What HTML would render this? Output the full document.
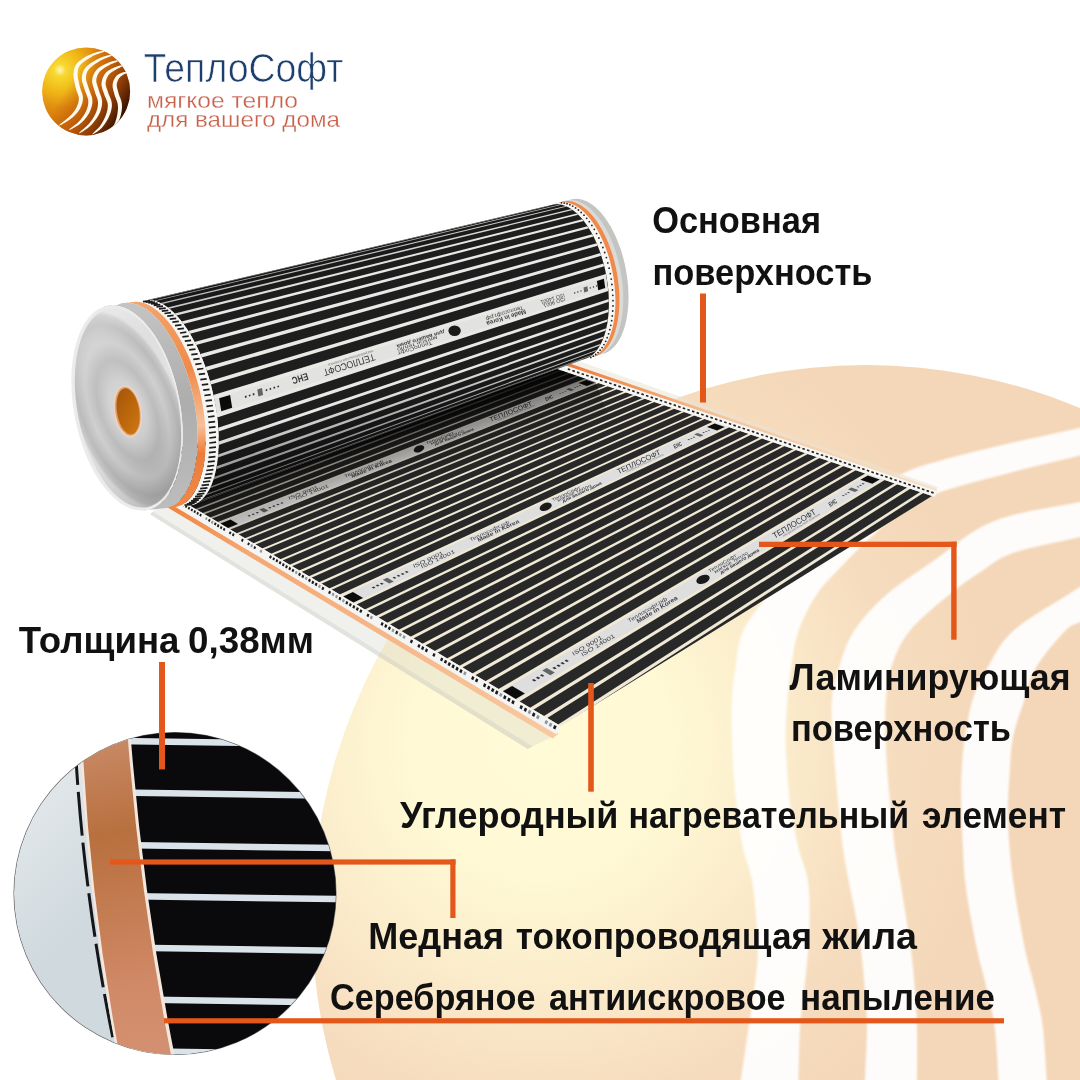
<!DOCTYPE html>
<html><head><meta charset="utf-8"><style>html,body{margin:0;padding:0;background:#fff}svg{display:block;will-change:transform;transform:translateZ(0)}text{font-family:"Liberation Sans",sans-serif}</style></head><body>
<svg width="1080" height="1080" viewBox="0 0 1080 1080">
<rect width="1080" height="1080" fill="#ffffff"/>
<defs>
<radialGradient id="gbg" gradientUnits="userSpaceOnUse" cx="540" cy="745" r="480">
<stop offset="0" stop-color="#fffbd6"/><stop offset="0.25" stop-color="#fffad5"/><stop offset="0.5" stop-color="#fbeccb"/><stop offset="0.75" stop-color="#f6dcbe"/><stop offset="1" stop-color="#f4d6b8"/>
</radialGradient>
<clipPath id="cbg"><circle cx="866" cy="919" r="554"/></clipPath>
<filter id="b1" x="-5%" y="-5%" width="110%" height="110%"><feGaussianBlur stdDeviation="0.8"/></filter>
</defs>
<circle cx="866" cy="919" r="554" fill="url(#gbg)"/>
<g clip-path="url(#cbg)" filter="url(#b1)" fill="#ffffff" fill-opacity="0.93">
<path d="M1100.0,421.0 C1096.7,422.1 1094.5,424.2 1080.0,427.8 C1065.5,431.4 1036.5,437.1 1013.0,442.6 C989.5,448.1 957.5,455.8 939.0,461.0 C920.5,466.2 914.8,467.7 902.0,474.0 C889.2,480.3 875.3,488.5 862.0,499.0 C848.7,509.5 833.7,525.5 822.0,537.0 C810.3,548.5 800.8,558.5 792.0,568.0 C783.2,577.5 777.2,583.5 769.0,594.0 C760.8,604.5 748.6,618.7 743.0,631.0 C737.4,643.3 737.3,656.5 735.5,668.0 C733.7,679.5 732.6,688.5 732.0,700.0 C731.4,711.5 731.7,724.7 732.0,737.0 C732.3,749.3 732.8,761.7 733.7,774.0 C734.6,786.3 735.9,798.7 737.4,811.0 C738.9,823.3 740.6,836.5 743.0,848.0 C745.4,859.5 749.8,868.5 752.0,880.0 C754.2,891.5 755.0,904.7 756.0,917.0 C757.0,929.3 758.1,941.7 757.8,954.0 C757.5,966.3 755.5,978.7 754.0,991.0 C752.5,1003.3 750.7,1013.2 748.5,1028.0 C746.3,1042.8 742.6,1068.8 741.0,1080.0 C739.4,1091.2 739.3,1092.5 739.0,1095.0 L798.0,1095.0 C798.1,1092.5 798.2,1091.2 798.5,1080.0 C798.8,1068.8 799.1,1042.8 800.0,1028.0 C800.9,1013.2 802.7,1003.3 804.0,991.0 C805.3,978.7 806.9,966.3 807.8,954.0 C808.7,941.7 809.6,929.3 809.6,917.0 C809.6,904.7 809.6,891.5 807.8,880.0 C805.9,868.5 801.3,859.5 798.5,848.0 C795.7,836.5 792.9,823.3 791.0,811.0 C789.1,798.7 788.3,786.3 787.4,774.0 C786.5,761.7 785.5,749.3 785.5,737.0 C785.5,724.7 786.5,711.5 787.4,700.0 C788.3,688.5 789.1,679.5 791.0,668.0 C792.9,656.5 794.2,643.3 798.5,631.0 C802.8,618.7 810.1,604.5 817.0,594.0 C823.9,583.5 831.5,577.0 840.0,568.0 C848.5,559.0 858.0,549.2 868.0,540.0 C878.0,530.8 888.2,520.9 900.0,513.0 C911.8,505.1 920.2,499.4 939.0,492.6 C957.8,485.8 989.5,478.2 1013.0,472.0 C1036.5,465.8 1065.5,459.4 1080.0,455.6 C1094.5,451.8 1096.7,450.1 1100.0,449.0 Z" />
<path d="M1100.0,496.0 C1096.7,497.0 1094.5,498.8 1080.0,502.0 C1065.5,505.2 1030.3,510.3 1013.0,515.0 C995.7,519.7 988.3,523.0 976.0,530.0 C963.7,537.0 953.8,546.3 939.0,557.0 C924.2,567.7 901.6,581.7 887.4,594.0 C873.2,606.3 862.1,618.7 854.0,631.0 C845.9,643.3 842.7,656.5 839.0,668.0 C835.3,679.5 832.9,688.5 831.9,700.0 C830.9,711.5 832.4,724.7 833.0,737.0 C833.6,749.3 834.6,761.7 835.6,774.0 C836.6,786.3 837.8,798.7 839.0,811.0 C840.2,823.3 841.4,836.5 843.0,848.0 C844.6,859.5 846.3,868.5 848.5,880.0 C850.7,891.5 853.8,904.7 856.0,917.0 C858.2,929.3 860.0,941.7 861.5,954.0 C863.0,966.3 864.1,978.7 865.0,991.0 C865.9,1003.3 867.0,1013.2 867.0,1028.0 C867.0,1042.8 865.5,1068.8 865.0,1080.0 C864.5,1091.2 864.2,1092.5 864.0,1095.0 L917.0,1095.0 C917.0,1092.5 917.0,1091.2 917.0,1080.0 C917.0,1068.8 917.3,1042.8 917.0,1028.0 C916.7,1013.2 915.9,1003.3 915.0,991.0 C914.1,978.7 913.0,966.3 911.5,954.0 C910.0,941.7 907.9,929.3 906.0,917.0 C904.1,904.7 901.9,891.5 900.0,880.0 C898.1,868.5 896.3,859.5 894.8,848.0 C893.3,836.5 892.2,823.3 891.0,811.0 C889.8,798.7 888.3,786.3 887.4,774.0 C886.5,761.7 885.9,748.5 885.6,737.0 C885.3,725.5 884.7,716.5 885.6,705.0 C886.5,693.5 887.0,680.3 891.0,668.0 C895.0,655.7 899.8,643.3 909.6,631.0 C919.4,618.7 937.9,604.0 950.0,594.0 C962.1,584.0 971.5,577.8 982.0,571.0 C992.5,564.2 996.7,558.7 1013.0,553.0 C1029.3,547.3 1065.5,540.7 1080.0,537.0 C1094.5,533.3 1096.7,532.0 1100.0,531.0 Z" />
<path d="M1100.0,575.0 C1096.7,577.0 1085.2,583.8 1080.0,587.0 C1074.8,590.2 1080.2,586.7 1069.0,594.0 C1057.8,601.3 1026.6,618.7 1013.0,631.0 C999.4,643.3 994.1,656.5 987.4,668.0 C980.7,679.5 976.3,688.5 972.6,700.0 C968.9,711.5 966.9,724.7 965.0,737.0 C963.1,749.3 962.1,761.7 961.5,774.0 C960.9,786.3 961.2,798.7 961.5,811.0 C961.8,823.3 962.4,836.5 963.0,848.0 C963.6,859.5 963.7,868.5 965.0,880.0 C966.3,891.5 968.5,904.7 970.7,917.0 C972.9,929.3 975.2,941.7 978.0,954.0 C980.8,966.3 984.6,978.7 987.4,991.0 C990.2,1003.3 992.9,1013.2 994.8,1028.0 C996.6,1042.8 997.8,1068.8 998.5,1080.0 C999.2,1091.2 998.9,1092.5 999.0,1095.0 L1047.0,1095.0 C1047.0,1092.5 1047.4,1091.2 1046.7,1080.0 C1046.0,1068.8 1044.8,1042.8 1043.0,1028.0 C1041.2,1013.2 1038.4,1003.3 1035.6,991.0 C1032.8,978.7 1028.8,966.3 1026.0,954.0 C1023.2,941.7 1021.2,929.3 1019.0,917.0 C1016.8,904.7 1014.6,891.5 1013.0,880.0 C1011.4,868.5 1010.5,859.5 1009.6,848.0 C1008.7,836.5 1007.8,823.3 1007.8,811.0 C1007.8,798.7 1008.7,786.3 1009.6,774.0 C1010.5,761.7 1010.5,749.3 1013.0,737.0 C1015.5,724.7 1020.6,711.5 1024.4,700.0 C1028.2,688.5 1028.8,679.5 1035.6,668.0 C1042.4,656.5 1057.6,638.7 1065.0,631.0 C1072.4,623.3 1074.2,625.5 1080.0,622.0 C1085.8,618.5 1096.7,612.0 1100.0,610.0 Z" />
</g>
<defs><clipPath id="csheet"><polygon points="120.0,463.9 560.7,726.0 932.0,496.0 520.0,356.4" /></clipPath>
<linearGradient id="glam" gradientUnits="userSpaceOnUse" x1="0" y1="0" x2="-8" y2="14"><stop offset="0" stop-color="#c9c9bd" stop-opacity="0.55"/><stop offset="1" stop-color="#d8d8cc" stop-opacity="0.25"/></linearGradient>
</defs>
<polygon points="165.0,500.3 557.7,734.0 527.7,749.0 150.0,514.3" fill="#d6d6cc" fill-opacity="0.36"/>
<polygon points="532.7,746.5 527.7,749.0 150.0,514.3 153.0,511.8" fill="#c4c4bc" fill-opacity="0.3"/>
<defs><linearGradient id="gfor" gradientUnits="userSpaceOnUse" x1="170" y1="510" x2="560" y2="735"><stop offset="0" stop-color="#f0853f"/><stop offset="0.2" stop-color="#f4a873"/><stop offset="1" stop-color="#f8c9a2"/></linearGradient></defs>
<polygon points="119.0,471.4 558.7,733.5 552.7,738.5 115.0,475.9" fill="url(#gfor)"/>
<polygon points="120.0,463.9 560.7,726.0 556.7,734.5 117.5,472.4" fill="#f4f4f2"/>
<polygon points="520.0,340.4 938.0,487.0 936.0,491.0 520.0,349.4" fill="#e9e4d6" fill-opacity="0.55"/>
<defs><linearGradient id="gfar" gradientUnits="userSpaceOnUse" x1="565" y1="365" x2="935" y2="490"><stop offset="0" stop-color="#ee7c3c"/><stop offset="0.2" stop-color="#f19a62"/><stop offset="0.45" stop-color="#f6c7a0"/><stop offset="1" stop-color="#f7e2c6"/></linearGradient></defs>
<polygon points="520.0,346.4 937.0,489.0 936.5,491.5 520.0,350.4" fill="url(#gfar)"/>
<polygon points="520.0,349.9 936.5,491.0 935.0,497.0 520.0,356.4" fill="#f6f6f4"/>
<polygon points="120.0,463.9 560.7,726.0 932.0,496.0 520.0,356.4" fill="#eee8d5" fill-opacity="0.94"/>
<g clip-path="url(#csheet)">
<polygon points="85.8,443.6 88.4,445.1 411.8,319.8 406.4,317.9" fill="#dedede"/>
<polygon points="88.9,445.5 90.9,446.6 416.9,321.5 413.0,320.2" fill="#292828"/>
<polygon points="91.6,447.0 93.7,448.3 422.2,323.3 418.2,321.9" fill="#292828"/>
<polygon points="94.4,448.7 96.7,450.1 427.6,325.1 423.5,323.7" fill="#292828"/>
<polygon points="97.5,450.5 99.9,452.0 433.2,327.0 428.9,325.6" fill="#292828"/>
<polygon points="100.7,452.5 103.3,454.0 438.9,328.9 434.5,327.5" fill="#292828"/>
<polygon points="104.2,454.5 107.0,456.2 444.7,330.9 440.3,329.4" fill="#292828"/>
<polygon points="107.8,456.7 110.8,458.4 450.7,332.9 446.1,331.4" fill="#292828"/>
<polygon points="111.7,459.0 114.8,460.8 456.8,335.0 452.1,333.4" fill="#292828"/>
<polygon points="115.8,461.4 119.1,463.4 463.1,337.1 458.3,335.5" fill="#292828"/>
<polygon points="120.1,464.0 123.5,466.0 469.5,339.3 464.6,337.6" fill="#292828"/>
<polygon points="124.6,466.7 128.2,468.8 476.0,341.5 471.0,339.8" fill="#292828"/>
<polygon points="129.3,469.5 133.0,471.7 482.7,343.8 477.6,342.0" fill="#292828"/>
<polygon points="134.2,472.4 139.9,475.7 491.8,346.9 484.3,344.3" fill="#dedede"/>
<polygon points="141.1,476.5 145.2,478.9 498.8,349.2 493.5,347.4" fill="#292828"/>
<polygon points="146.5,479.7 150.8,482.2 506.0,351.7 500.5,349.8" fill="#292828"/>
<polygon points="152.1,483.0 156.5,485.7 513.2,354.1 507.7,352.2" fill="#292828"/>
<polygon points="157.9,486.5 162.5,489.2 520.7,356.6 515.0,354.7" fill="#292828"/>
<polygon points="164.0,490.1 168.7,492.9 528.2,359.2 522.5,357.3" fill="#292828"/>
<polygon points="170.2,493.8 175.1,496.7 536.0,361.8 530.1,359.8" fill="#292828"/>
<polygon points="176.7,497.6 181.7,500.6 543.8,364.5 537.8,362.5" fill="#292828"/>
<polygon points="183.3,501.6 188.5,504.7 551.8,367.2 545.7,365.1" fill="#292828"/>
<polygon points="190.2,505.7 195.5,508.9 559.9,369.9 553.7,367.8" fill="#292828"/>
<polygon points="197.2,509.9 202.8,513.1 568.2,372.7 561.9,370.6" fill="#292828"/>
<polygon points="204.5,514.2 210.2,517.6 576.6,375.6 570.2,373.4" fill="#292828"/>
<polygon points="212.0,518.6 217.8,522.1 585.2,378.5 578.6,376.3" fill="#292828"/>
<polygon points="219.7,523.2 228.4,528.4 596.8,382.4 587.2,379.2" fill="#dedede"/>
<polygon points="230.3,529.5 236.5,533.2 605.7,385.4 598.9,383.1" fill="#292828"/>
<polygon points="238.5,534.4 244.8,538.2 614.7,388.5 607.8,386.2" fill="#292828"/>
<polygon points="246.8,539.4 253.4,543.2 623.9,391.6 616.9,389.2" fill="#292828"/>
<polygon points="255.4,544.5 262.1,548.5 633.2,394.8 626.1,392.4" fill="#292828"/>
<polygon points="264.2,549.7 271.1,553.8 642.6,398.0 635.4,395.5" fill="#292828"/>
<polygon points="273.3,555.1 280.3,559.2 652.2,401.2 644.9,398.7" fill="#292828"/>
<polygon points="282.5,560.6 289.6,564.8 661.9,404.5 654.5,402.0" fill="#292828"/>
<polygon points="291.9,566.2 299.2,570.5 671.8,407.8 664.3,405.3" fill="#292828"/>
<polygon points="301.5,571.9 309.0,576.3 681.8,411.2 674.2,408.7" fill="#292828"/>
<polygon points="311.4,577.7 319.0,582.3 692.0,414.7 684.2,412.1" fill="#292828"/>
<polygon points="321.4,583.7 329.2,588.4 702.3,418.2 694.4,415.5" fill="#292828"/>
<polygon points="331.7,589.8 339.7,594.6 712.7,421.7 704.7,419.0" fill="#292828"/>
<polygon points="342.2,596.0 353.9,603.0 726.8,426.5 715.2,422.5" fill="#dedede"/>
<polygon points="356.5,604.5 364.8,609.5 737.6,430.1 729.4,427.3" fill="#292828"/>
<polygon points="367.4,611.1 375.9,616.1 748.5,433.8 740.2,431.0" fill="#292828"/>
<polygon points="378.6,617.7 387.2,622.8 759.5,437.6 751.1,434.7" fill="#292828"/>
<polygon points="389.9,624.5 398.7,629.7 770.7,441.4 762.2,438.5" fill="#292828"/>
<polygon points="401.5,631.3 410.5,636.7 782.0,445.2 773.4,442.3" fill="#292828"/>
<polygon points="413.3,638.4 422.4,643.8 793.5,449.1 784.7,446.1" fill="#292828"/>
<polygon points="425.3,645.5 434.6,651.0 805.1,453.0 796.2,450.0" fill="#292828"/>
<polygon points="437.5,652.7 446.9,658.4 816.8,457.0 807.9,453.9" fill="#292828"/>
<polygon points="449.9,660.1 459.5,665.8 828.7,461.0 819.6,457.9" fill="#292828"/>
<polygon points="462.5,667.6 472.3,673.4 840.7,465.1 831.6,462.0" fill="#292828"/>
<polygon points="475.4,675.3 485.3,681.2 852.9,469.2 843.6,466.1" fill="#292828"/>
<polygon points="488.4,683.0 498.5,689.0 865.2,473.4 855.8,470.2" fill="#292828"/>
<polygon points="501.6,690.9 516.4,699.7 881.8,479.0 868.2,474.4" fill="#dedede"/>
<polygon points="519.6,701.6 530.1,707.8 894.5,483.3 884.8,480.0" fill="#292828"/>
<polygon points="533.4,709.7 544.0,716.0 907.2,487.6 897.5,484.3" fill="#292828"/>
<polygon points="547.3,718.0 558.1,724.4 920.2,492.0 910.3,488.7" fill="#292828"/>
<polygon points="561.4,726.4 572.4,732.9 933.2,496.4 923.3,493.0" fill="#292828"/>
<polygon points="575.8,735.0 586.9,741.6 946.4,500.9 936.4,497.5" fill="#292828"/>
<polygon points="590.4,743.6 601.6,750.3 959.8,505.4 949.6,502.0" fill="#292828"/>
<polygon points="605.1,752.4 616.5,759.2 973.2,510.0 963.0,506.5" fill="#292828"/>
<polygon points="620.1,761.3 631.7,768.2 986.9,514.6 976.5,511.1" fill="#292828"/>
<polygon points="635.3,770.4 647.0,777.3 1000.6,519.2 990.1,515.7" fill="#292828"/>
<polygon points="650.7,779.5 662.6,786.6 1014.5,524.0 1003.9,520.4" fill="#292828"/>
<polygon points="666.3,788.8 678.3,795.9 1028.6,528.7 1017.8,525.1" fill="#292828"/>
<polygon points="682.1,798.2 694.3,805.4 1042.7,533.5 1031.9,529.9" fill="#292828"/>
</g>
<path d="M166.1,493.2 l1.6,0.9 l-0.9,2.1 l-1.6,-0.9z M168.9,494.9 l1.6,0.9 l-0.9,2.1 l-1.6,-0.9z M180.1,501.6 l1.6,0.9 l-0.9,2.2 l-1.6,-0.9z M182.9,503.3 l1.6,0.9 l-0.9,2.2 l-1.6,-0.9z M185.8,505.0 l1.6,0.9 l-0.9,2.2 l-1.6,-0.9z M188.6,506.7 l1.6,0.9 l-0.9,2.2 l-1.6,-0.9z M191.5,508.4 l1.6,0.9 l-0.9,2.2 l-1.6,-0.9z M194.4,510.1 l1.6,0.9 l-0.9,2.2 l-1.6,-0.9z M197.3,511.8 l1.6,0.9 l-0.9,2.2 l-1.6,-0.9z M200.2,513.6 l1.6,0.9 l-0.9,2.2 l-1.6,-0.9z M209.0,518.8 l1.6,1.0 l-1.0,2.3 l-1.6,-1.0z M214.9,522.3 l1.7,1.0 l-1.0,2.3 l-1.7,-1.0z M217.8,524.1 l1.7,1.0 l-1.0,2.3 l-1.7,-1.0z M220.8,525.9 l1.7,1.0 l-1.0,2.3 l-1.7,-1.0z M223.8,527.7 l1.7,1.0 l-1.0,2.3 l-1.7,-1.0z M229.8,531.3 l1.7,1.0 l-1.0,2.3 l-1.7,-1.0z M232.9,533.1 l1.7,1.0 l-1.0,2.3 l-1.7,-1.0z M242.0,538.5 l1.7,1.0 l-1.0,2.4 l-1.7,-1.0z M248.2,542.2 l1.7,1.0 l-1.0,2.4 l-1.7,-1.0z M254.4,545.9 l1.7,1.0 l-1.0,2.4 l-1.7,-1.0z M270.1,555.3 l1.8,1.0 l-1.0,2.4 l-1.8,-1.0z M273.3,557.2 l1.8,1.0 l-1.0,2.4 l-1.8,-1.0z M276.5,559.1 l1.8,1.0 l-1.0,2.5 l-1.8,-1.0z M279.7,561.0 l1.8,1.0 l-1.0,2.5 l-1.8,-1.0z M282.9,562.9 l1.8,1.0 l-1.0,2.5 l-1.8,-1.0z M286.1,564.9 l1.8,1.0 l-1.0,2.5 l-1.8,-1.0z M289.4,566.8 l1.8,1.1 l-1.1,2.5 l-1.8,-1.1z M292.6,568.7 l1.8,1.1 l-1.1,2.5 l-1.8,-1.1z M299.2,572.6 l1.8,1.1 l-1.1,2.5 l-1.8,-1.1z M302.5,574.6 l1.8,1.1 l-1.1,2.5 l-1.8,-1.1z M309.1,578.6 l1.9,1.1 l-1.1,2.5 l-1.9,-1.1z M312.4,580.6 l1.9,1.1 l-1.1,2.6 l-1.9,-1.1z M315.7,582.5 l1.9,1.1 l-1.1,2.6 l-1.9,-1.1z M322.5,586.6 l1.9,1.1 l-1.1,2.6 l-1.9,-1.1z M329.2,590.6 l1.9,1.1 l-1.1,2.6 l-1.9,-1.1z M339.5,596.7 l1.9,1.1 l-1.1,2.6 l-1.9,-1.1z M346.4,600.9 l1.9,1.1 l-1.1,2.7 l-1.9,-1.1z M349.9,602.9 l1.9,1.1 l-1.1,2.7 l-1.9,-1.1z M353.4,605.0 l2.0,1.1 l-1.1,2.7 l-2.0,-1.1z M356.9,607.1 l2.0,1.1 l-1.1,2.7 l-2.0,-1.1z M360.4,609.2 l2.0,1.1 l-1.1,2.7 l-2.0,-1.1z M367.5,613.4 l2.0,1.1 l-1.1,2.7 l-2.0,-1.1z M381.7,621.9 l2.0,1.2 l-1.2,2.8 l-2.0,-1.2z M385.4,624.1 l2.0,1.2 l-1.2,2.8 l-2.0,-1.2z M389.0,626.3 l2.0,1.2 l-1.2,2.8 l-2.0,-1.2z M396.3,630.6 l2.0,1.2 l-1.2,2.8 l-2.0,-1.2z M411.0,639.4 l2.1,1.2 l-1.2,2.8 l-2.1,-1.2z M418.5,643.9 l2.1,1.2 l-1.2,2.9 l-2.1,-1.2z M422.2,646.1 l2.1,1.2 l-1.2,2.9 l-2.1,-1.2z M426.0,648.3 l2.1,1.2 l-1.2,2.9 l-2.1,-1.2z M433.5,652.9 l2.1,1.2 l-1.2,2.9 l-2.1,-1.2z M441.2,657.4 l2.1,1.2 l-1.2,2.9 l-2.1,-1.2z M445.0,659.7 l2.2,1.2 l-1.2,2.9 l-2.2,-1.2z M448.8,662.0 l2.2,1.3 l-1.3,3.0 l-2.2,-1.3z M452.7,664.3 l2.2,1.3 l-1.3,3.0 l-2.2,-1.3z M456.6,666.6 l2.2,1.3 l-1.3,3.0 l-2.2,-1.3z M460.5,668.9 l2.2,1.3 l-1.3,3.0 l-2.2,-1.3z M472.3,676.0 l2.2,1.3 l-1.3,3.0 l-2.2,-1.3z M476.2,678.3 l2.2,1.3 l-1.3,3.0 l-2.2,-1.3z M484.2,683.1 l2.2,1.3 l-1.3,3.1 l-2.2,-1.3z M488.2,685.5 l2.2,1.3 l-1.3,3.1 l-2.2,-1.3z M492.2,687.9 l2.3,1.3 l-1.3,3.1 l-2.3,-1.3z M496.2,690.3 l2.3,1.3 l-1.3,3.1 l-2.3,-1.3z M504.3,695.1 l2.3,1.3 l-1.3,3.1 l-2.3,-1.3z M508.4,697.5 l2.3,1.3 l-1.3,3.1 l-2.3,-1.3z M512.5,700.0 l2.3,1.3 l-1.3,3.1 l-2.3,-1.3z M520.7,704.9 l2.3,1.3 l-1.3,3.2 l-2.3,-1.3z M524.9,707.4 l2.3,1.3 l-1.3,3.2 l-2.3,-1.3z M533.2,712.3 l2.3,1.4 l-1.4,3.2 l-2.3,-1.4z M554.3,724.9 l2.4,1.4 l-1.4,3.3 l-2.4,-1.4z" fill="#1b1b1d"/>
<path d="M149.6,483.4 l1.5,0.9 l-0.9,2.1 l-1.5,-0.9z M152.3,485.0 l1.5,0.9 l-0.9,2.1 l-1.5,-0.9z M155.1,486.6 l1.5,0.9 l-0.9,2.1 l-1.5,-0.9z M160.5,489.9 l1.5,0.9 l-0.9,2.1 l-1.5,-0.9z M174.5,498.2 l1.6,0.9 l-0.9,2.2 l-1.6,-0.9z M206.0,517.1 l1.6,0.9 l-0.9,2.2 l-1.6,-0.9z M211.9,520.6 l1.7,1.0 l-1.0,2.3 l-1.7,-1.0z M251.3,544.1 l1.7,1.0 l-1.0,2.4 l-1.7,-1.0z M260.6,549.6 l1.8,1.0 l-1.0,2.4 l-1.8,-1.0z M295.9,570.7 l1.8,1.1 l-1.1,2.5 l-1.8,-1.1z M305.8,576.6 l1.9,1.1 l-1.1,2.5 l-1.9,-1.1z M319.1,584.5 l1.9,1.1 l-1.1,2.6 l-1.9,-1.1z M332.7,592.6 l1.9,1.1 l-1.1,2.6 l-1.9,-1.1z M336.1,594.7 l1.9,1.1 l-1.1,2.6 l-1.9,-1.1z M343.0,598.8 l1.9,1.1 l-1.1,2.6 l-1.9,-1.1z M371.0,615.5 l2.0,1.2 l-1.2,2.7 l-2.0,-1.2z M392.6,628.4 l2.0,1.2 l-1.2,2.8 l-2.0,-1.2z M399.9,632.8 l2.1,1.2 l-1.2,2.8 l-2.1,-1.2z M403.6,635.0 l2.1,1.2 l-1.2,2.8 l-2.1,-1.2z M464.4,671.3 l2.2,1.3 l-1.3,3.0 l-2.2,-1.3z M500.3,692.7 l2.3,1.3 l-1.3,3.1 l-2.3,-1.3z M529.0,709.8 l2.3,1.3 l-1.3,3.2 l-2.3,-1.3z M537.4,714.8 l2.3,1.4 l-1.4,3.2 l-2.3,-1.4z M545.8,719.9 l2.4,1.4 l-1.4,3.2 l-2.4,-1.4z M550.0,722.4 l2.4,1.4 l-1.4,3.3 l-2.4,-1.4z" fill="#8b96a0"/>
<path d="M568.0,368.2 l2.4,0.8 l-0.4,1.6 l-2.4,-0.8z M572.6,369.8 l2.4,0.8 l-0.4,1.6 l-2.4,-0.8z M577.2,371.3 l2.4,0.8 l-0.4,1.6 l-2.4,-0.8z M581.8,372.9 l2.4,0.8 l-0.4,1.6 l-2.4,-0.8z M586.4,374.4 l2.4,0.8 l-0.4,1.6 l-2.4,-0.8z M591.0,376.0 l2.4,0.8 l-0.4,1.6 l-2.4,-0.8z M595.6,377.6 l2.4,0.8 l-0.4,1.6 l-2.4,-0.8z M600.2,379.1 l2.4,0.8 l-0.4,1.6 l-2.4,-0.8z M604.8,380.7 l2.4,0.8 l-0.4,1.6 l-2.4,-0.8z M609.4,382.2 l2.4,0.8 l-0.4,1.6 l-2.4,-0.8z M614.0,383.8 l2.4,0.8 l-0.4,1.6 l-2.4,-0.8z M618.6,385.3 l2.4,0.8 l-0.4,1.6 l-2.4,-0.8z M623.2,386.9 l2.4,0.8 l-0.4,1.6 l-2.4,-0.8z M627.8,388.5 l2.4,0.8 l-0.4,1.6 l-2.4,-0.8z M632.4,390.0 l2.4,0.8 l-0.4,1.6 l-2.4,-0.8z M637.0,391.6 l2.4,0.8 l-0.4,1.6 l-2.4,-0.8z M641.6,393.1 l2.4,0.8 l-0.4,1.6 l-2.4,-0.8z M646.2,394.7 l2.4,0.8 l-0.4,1.6 l-2.4,-0.8z M650.8,396.3 l2.4,0.8 l-0.4,1.6 l-2.4,-0.8z M655.4,397.8 l2.4,0.8 l-0.4,1.6 l-2.4,-0.8z M660.0,399.4 l2.4,0.8 l-0.4,1.6 l-2.4,-0.8z M664.6,400.9 l2.4,0.8 l-0.4,1.6 l-2.4,-0.8z M669.2,402.5 l2.4,0.8 l-0.4,1.6 l-2.4,-0.8z M673.8,404.0 l2.4,0.8 l-0.4,1.6 l-2.4,-0.8z M678.4,405.6 l2.4,0.8 l-0.4,1.6 l-2.4,-0.8z M683.0,407.2 l2.4,0.8 l-0.4,1.6 l-2.4,-0.8z M687.6,408.7 l2.4,0.8 l-0.4,1.6 l-2.4,-0.8z M692.2,410.3 l2.4,0.8 l-0.4,1.6 l-2.4,-0.8z M696.8,411.8 l2.4,0.8 l-0.4,1.6 l-2.4,-0.8z M701.4,413.4 l2.4,0.8 l-0.4,1.6 l-2.4,-0.8z M706.0,415.0 l2.4,0.8 l-0.4,1.6 l-2.4,-0.8z M710.6,416.5 l2.4,0.8 l-0.4,1.6 l-2.4,-0.8z M715.2,418.1 l2.4,0.8 l-0.4,1.6 l-2.4,-0.8z M719.8,419.6 l2.4,0.8 l-0.4,1.6 l-2.4,-0.8z M724.4,421.2 l2.4,0.8 l-0.4,1.6 l-2.4,-0.8z M729.0,422.7 l2.4,0.8 l-0.4,1.6 l-2.4,-0.8z M733.6,424.3 l2.4,0.8 l-0.4,1.6 l-2.4,-0.8z M738.2,425.9 l2.4,0.8 l-0.4,1.6 l-2.4,-0.8z M742.8,427.4 l2.4,0.8 l-0.4,1.6 l-2.4,-0.8z M747.4,429.0 l2.4,0.8 l-0.4,1.6 l-2.4,-0.8z M752.0,430.5 l2.4,0.8 l-0.4,1.6 l-2.4,-0.8z M756.6,432.1 l2.4,0.8 l-0.4,1.6 l-2.4,-0.8z M761.2,433.7 l2.4,0.8 l-0.4,1.6 l-2.4,-0.8z M765.8,435.2 l2.4,0.8 l-0.4,1.6 l-2.4,-0.8z M770.4,436.8 l2.4,0.8 l-0.4,1.6 l-2.4,-0.8z M775.0,438.3 l2.4,0.8 l-0.4,1.6 l-2.4,-0.8z M779.6,439.9 l2.4,0.8 l-0.4,1.6 l-2.4,-0.8z M784.2,441.4 l2.4,0.8 l-0.4,1.6 l-2.4,-0.8z M788.8,443.0 l2.4,0.8 l-0.4,1.6 l-2.4,-0.8z M793.4,444.6 l2.4,0.8 l-0.4,1.6 l-2.4,-0.8z M798.0,446.1 l2.4,0.8 l-0.4,1.6 l-2.4,-0.8z M802.6,447.7 l2.4,0.8 l-0.4,1.6 l-2.4,-0.8z M807.2,449.2 l2.4,0.8 l-0.4,1.6 l-2.4,-0.8z M811.8,450.8 l2.4,0.8 l-0.4,1.6 l-2.4,-0.8z M816.4,452.4 l2.4,0.8 l-0.4,1.6 l-2.4,-0.8z M821.0,453.9 l2.4,0.8 l-0.4,1.6 l-2.4,-0.8z M825.6,455.5 l2.4,0.8 l-0.4,1.6 l-2.4,-0.8z M830.2,457.0 l2.4,0.8 l-0.4,1.6 l-2.4,-0.8z M834.8,458.6 l2.4,0.8 l-0.4,1.6 l-2.4,-0.8z M839.4,460.1 l2.4,0.8 l-0.4,1.6 l-2.4,-0.8z M844.0,461.7 l2.4,0.8 l-0.4,1.6 l-2.4,-0.8z M848.6,463.3 l2.4,0.8 l-0.4,1.6 l-2.4,-0.8z M853.2,464.8 l2.4,0.8 l-0.4,1.6 l-2.4,-0.8z M857.8,466.4 l2.4,0.8 l-0.4,1.6 l-2.4,-0.8z M862.4,467.9 l2.4,0.8 l-0.4,1.6 l-2.4,-0.8z M867.0,469.5 l2.4,0.8 l-0.4,1.6 l-2.4,-0.8z M871.6,471.1 l2.4,0.8 l-0.4,1.6 l-2.4,-0.8z M876.2,472.6 l2.4,0.8 l-0.4,1.6 l-2.4,-0.8z M880.8,474.2 l2.4,0.8 l-0.4,1.6 l-2.4,-0.8z M885.4,475.7 l2.4,0.8 l-0.4,1.6 l-2.4,-0.8z M890.0,477.3 l2.4,0.8 l-0.4,1.6 l-2.4,-0.8z M894.6,478.9 l2.4,0.8 l-0.4,1.6 l-2.4,-0.8z M899.2,480.4 l2.4,0.8 l-0.4,1.6 l-2.4,-0.8z M903.8,482.0 l2.4,0.8 l-0.4,1.6 l-2.4,-0.8z M908.4,483.5 l2.4,0.8 l-0.4,1.6 l-2.4,-0.8z M913.0,485.1 l2.4,0.8 l-0.4,1.6 l-2.4,-0.8z M917.6,486.6 l2.4,0.8 l-0.4,1.6 l-2.4,-0.8z M922.2,488.2 l2.4,0.8 l-0.4,1.6 l-2.4,-0.8z M926.8,489.8 l2.4,0.8 l-0.4,1.6 l-2.4,-0.8z M931.4,491.3 l2.4,0.8 l-0.4,1.6 l-2.4,-0.8z" fill="#222"/>
<polygon points="220.5,523.4 228.1,527.9 238.0,524.0 230.5,519.5" fill="#0c0c0c"/>
<polygon points="586.5,380.0 594.8,382.8 586.9,385.9 578.5,383.1" fill="#0c0c0c"/>
<polygon points="343.2,596.4 353.4,602.4 363.1,597.9 352.9,591.9" fill="#0c0c0c"/>
<polygon points="714.6,423.4 724.7,426.9 717.0,430.4 706.9,427.0" fill="#0c0c0c"/>
<polygon points="502.9,691.3 515.7,698.9 524.9,693.5 512.1,685.9" fill="#0c0c0c"/>
<polygon points="867.8,475.4 879.7,479.5 872.3,483.8 860.4,479.8" fill="#0c0c0c"/>
<polygon points="247.5,515.8 249.0,516.6 250.9,515.9 249.4,515.0" fill="#333"/>
<polygon points="251.6,514.2 253.1,515.0 254.9,514.3 253.4,513.5" fill="#333"/>
<polygon points="255.6,512.6 257.1,513.5 259.0,512.7 257.5,511.9" fill="#333"/>
<polygon points="259.1,509.6 264.0,512.4 268.4,510.6 263.5,507.9" fill="#444" fill-opacity="0.8"/>
<polygon points="268.1,507.7 269.7,508.5 271.5,507.8 270.0,506.9" fill="#333"/>
<polygon points="272.2,506.1 273.7,506.9 275.5,506.2 274.0,505.3" fill="#333"/>
<polygon points="276.2,504.5 277.8,505.3 279.6,504.6 278.1,503.8" fill="#333"/>
<polygon points="280.3,502.9 281.8,503.7 283.6,503.0 282.1,502.2" fill="#333"/>
<text x="289.1" y="499.8" font-size="4.367999999999999" font-weight="normal" fill="#2a2a2a" fill-opacity="0.9" textLength="31.6" lengthAdjust="spacingAndGlyphs" transform="rotate(-21.5 289.1 499.8)">ISO 9001</text>
<text x="296.0" y="500.0" font-size="4.367999999999999" font-weight="normal" fill="#2a2a2a" fill-opacity="0.9" textLength="35.6" lengthAdjust="spacingAndGlyphs" transform="rotate(-21.6 296.0 500.0)">ISO 14001</text>
<text x="345.1" y="477.7" font-size="4.212000000000001" font-weight="normal" fill="#2a2a2a" fill-opacity="0.9" textLength="41.5" lengthAdjust="spacingAndGlyphs" transform="rotate(-21.5 345.1 477.7)">Теплософт.рф</text>
<text x="351.9" y="477.9" font-size="4.524" font-weight="bold" fill="#2a2a2a" fill-opacity="0.9" textLength="43.6" lengthAdjust="spacingAndGlyphs" transform="rotate(-21.6 351.9 477.9)">Made in Korea</text>
<ellipse cx="419.0" cy="448.9" rx="5.5" ry="3.3" transform="rotate(-22 419.0 448.9)" fill="#1a1a1a"/>
<text x="426.5" y="444.5" font-size="3.5879999999999996" font-weight="normal" fill="#2a2a2a" fill-opacity="0.9" textLength="29.6" lengthAdjust="spacingAndGlyphs" transform="rotate(-21.5 426.5 444.5)">ТеплоСофт</text>
<text x="430.9" y="444.9" font-size="3.5879999999999996" font-weight="normal" fill="#2a2a2a" fill-opacity="0.9" textLength="35.6" lengthAdjust="spacingAndGlyphs" transform="rotate(-21.5 430.9 444.9)">мягкое тепло</text>
<text x="435.3" y="445.4" font-size="3.5879999999999996" font-weight="bold" fill="#2a2a2a" fill-opacity="0.9" textLength="41.6" lengthAdjust="spacingAndGlyphs" transform="rotate(-21.6 435.3 445.4)">для вашего дома</text>
<text x="490.4" y="422.0" font-size="6.396" font-weight="normal" fill="#222" fill-opacity="0.9" textLength="45.5" lengthAdjust="spacingAndGlyphs" transform="rotate(-21.5 490.4 422.0)">ТЕПЛОСОФТ</text>
<text x="498.1" y="420.7" font-size="2.4960000000000004" font-weight="normal" fill="#555" fill-opacity="0.7" textLength="39.6" lengthAdjust="spacingAndGlyphs" transform="rotate(-21.6 498.1 420.7)">нагревательная пленка</text>
<text x="545.9" y="400.9" font-size="5.07" font-weight="bold" fill="#222" fill-opacity="0.9" textLength="7.9" lengthAdjust="spacingAndGlyphs" transform="rotate(-21.6 545.9 400.9)">ЕНС</text>
<polygon points="559.0,393.3 560.3,393.8 561.4,393.4 560.1,392.9" fill="#444"/>
<polygon points="561.5,392.3 562.9,392.8 564.0,392.4 562.6,391.9" fill="#444"/>
<polygon points="564.1,391.3 565.4,391.8 566.5,391.3 565.2,390.9" fill="#444"/>
<polygon points="566.0,389.2 570.9,391.0 574.2,389.7 569.3,387.9" fill="#444" fill-opacity="0.8"/>
<polygon points="573.7,387.5 575.0,388.0 576.1,387.6 574.8,387.1" fill="#444"/>
<polygon points="576.2,386.5 577.6,387.0 578.7,386.5 577.4,386.1" fill="#444"/>
<polygon points="578.8,385.5 580.2,386.0 581.3,385.5 579.9,385.1" fill="#444"/>
<polygon points="371.6,587.4 373.6,588.5 375.5,587.7 373.5,586.5" fill="#333"/>
<polygon points="375.7,585.5 377.7,586.6 379.6,585.7 377.6,584.6" fill="#333"/>
<polygon points="379.8,583.5 381.8,584.7 383.7,583.8 381.7,582.7" fill="#333"/>
<polygon points="382.8,579.8 389.3,583.5 393.8,581.4 387.3,577.7" fill="#444" fill-opacity="0.8"/>
<polygon points="392.5,577.6 394.5,578.7 396.4,577.9 394.3,576.7" fill="#333"/>
<polygon points="396.6,575.7 398.6,576.8 400.5,575.9 398.4,574.8" fill="#333"/>
<polygon points="400.7,573.7 402.7,574.9 404.6,574.0 402.6,572.9" fill="#333"/>
<polygon points="404.8,571.8 406.8,572.9 408.7,572.1 406.7,570.9" fill="#333"/>
<text x="413.9" y="568.1" font-size="5.04" font-weight="normal" fill="#2a2a2a" fill-opacity="0.9" textLength="33.0" lengthAdjust="spacingAndGlyphs" transform="rotate(-25.1 413.9 568.1)">ISO 9001</text>
<text x="421.8" y="568.6" font-size="5.04" font-weight="normal" fill="#2a2a2a" fill-opacity="0.9" textLength="37.1" lengthAdjust="spacingAndGlyphs" transform="rotate(-25.3 421.8 568.6)">ISO 14001</text>
<text x="470.6" y="541.5" font-size="4.86" font-weight="normal" fill="#2a2a2a" fill-opacity="0.9" textLength="43.3" lengthAdjust="spacingAndGlyphs" transform="rotate(-25.1 470.6 541.5)">Теплософт.рф</text>
<text x="478.5" y="541.9" font-size="5.22" font-weight="bold" fill="#2a2a2a" fill-opacity="0.9" textLength="45.4" lengthAdjust="spacingAndGlyphs" transform="rotate(-25.3 478.5 541.9)">Made in Korea</text>
<ellipse cx="545.7" cy="506.8" rx="6.3" ry="3.8" transform="rotate(-22 545.7 506.8)" fill="#1a1a1a"/>
<text x="552.8" y="501.4" font-size="4.14" font-weight="normal" fill="#2a2a2a" fill-opacity="0.9" textLength="30.9" lengthAdjust="spacingAndGlyphs" transform="rotate(-25.1 552.8 501.4)">ТеплоСофт</text>
<text x="557.9" y="502.0" font-size="4.14" font-weight="normal" fill="#2a2a2a" fill-opacity="0.9" textLength="37.1" lengthAdjust="spacingAndGlyphs" transform="rotate(-25.2 557.9 502.0)">мягкое тепло</text>
<text x="563.0" y="502.6" font-size="4.14" font-weight="bold" fill="#2a2a2a" fill-opacity="0.9" textLength="43.3" lengthAdjust="spacingAndGlyphs" transform="rotate(-25.3 563.0 502.6)">для вашего дома</text>
<text x="618.4" y="474.3" font-size="7.38" font-weight="normal" fill="#222" fill-opacity="0.9" textLength="47.4" lengthAdjust="spacingAndGlyphs" transform="rotate(-25.2 618.4 474.3)">ТЕПЛОСОФТ</text>
<text x="626.7" y="472.7" font-size="2.8800000000000003" font-weight="normal" fill="#555" fill-opacity="0.7" textLength="41.2" lengthAdjust="spacingAndGlyphs" transform="rotate(-25.3 626.7 472.7)">нагревательная пленка</text>
<text x="674.8" y="448.7" font-size="5.8500000000000005" font-weight="bold" fill="#222" fill-opacity="0.9" textLength="8.2" lengthAdjust="spacingAndGlyphs" transform="rotate(-25.2 674.8 448.7)">ЕНС</text>
<polygon points="687.4,439.6 689.0,440.2 690.1,439.7 688.5,439.1" fill="#444"/>
<polygon points="690.0,438.4 691.6,439.0 692.7,438.4 691.1,437.9" fill="#444"/>
<polygon points="692.6,437.2 694.2,437.7 695.3,437.2 693.7,436.6" fill="#444"/>
<polygon points="694.1,434.6 700.2,436.8 703.5,435.2 697.4,433.1" fill="#444" fill-opacity="0.8"/>
<polygon points="702.3,432.6 703.9,433.2 705.0,432.7 703.4,432.1" fill="#444"/>
<polygon points="704.9,431.4 706.5,432.0 707.6,431.4 706.0,430.9" fill="#444"/>
<polygon points="707.5,430.2 709.1,430.7 710.2,430.2 708.6,429.7" fill="#444"/>
<polygon points="531.9,680.1 534.4,681.6 536.3,680.5 533.7,679.0" fill="#333"/>
<polygon points="535.9,677.7 538.4,679.2 540.3,678.1 537.7,676.6" fill="#333"/>
<polygon points="539.9,675.3 542.5,676.7 544.3,675.7 541.8,674.2" fill="#333"/>
<polygon points="542.3,670.6 550.4,675.3 554.8,672.6 546.7,668.0" fill="#444" fill-opacity="0.8"/>
<polygon points="552.4,667.9 554.9,669.3 556.7,668.2 554.2,666.8" fill="#333"/>
<polygon points="556.4,665.5 558.9,666.9 560.8,665.8 558.2,664.4" fill="#333"/>
<polygon points="560.4,663.1 563.0,664.5 564.8,663.4 562.3,662.0" fill="#333"/>
<polygon points="564.5,660.7 567.0,662.1 568.8,661.0 566.3,659.6" fill="#333"/>
<text x="573.5" y="656.0" font-size="5.6" font-weight="normal" fill="#2a2a2a" fill-opacity="0.9" textLength="34.1" lengthAdjust="spacingAndGlyphs" transform="rotate(-30.8 573.5 656.0)">ISO 9001</text>
<text x="582.4" y="656.7" font-size="5.6" font-weight="normal" fill="#2a2a2a" fill-opacity="0.9" textLength="38.4" lengthAdjust="spacingAndGlyphs" transform="rotate(-31.0 582.4 656.7)">ISO 14001</text>
<text x="629.1" y="622.8" font-size="5.4" font-weight="normal" fill="#2a2a2a" fill-opacity="0.9" textLength="44.8" lengthAdjust="spacingAndGlyphs" transform="rotate(-30.8 629.1 622.8)">Теплософт.рф</text>
<text x="637.9" y="623.2" font-size="5.8" font-weight="bold" fill="#2a2a2a" fill-opacity="0.9" textLength="46.9" lengthAdjust="spacingAndGlyphs" transform="rotate(-31.0 637.9 623.2)">Made in Korea</text>
<ellipse cx="703.0" cy="579.4" rx="7.0" ry="4.2" transform="rotate(-22 703.0 579.4)" fill="#1a1a1a"/>
<text x="709.4" y="572.7" font-size="4.6" font-weight="normal" fill="#2a2a2a" fill-opacity="0.9" textLength="32.0" lengthAdjust="spacingAndGlyphs" transform="rotate(-30.7 709.4 572.7)">ТеплоСофт</text>
<text x="715.2" y="573.4" font-size="4.6" font-weight="normal" fill="#2a2a2a" fill-opacity="0.9" textLength="38.4" lengthAdjust="spacingAndGlyphs" transform="rotate(-30.9 715.2 573.4)">мягкое тепло</text>
<text x="721.0" y="574.1" font-size="4.6" font-weight="bold" fill="#2a2a2a" fill-opacity="0.9" textLength="44.8" lengthAdjust="spacingAndGlyphs" transform="rotate(-31.0 721.0 574.1)">для вашего дома</text>
<text x="774.7" y="538.8" font-size="8.2" font-weight="normal" fill="#222" fill-opacity="0.9" textLength="49.0" lengthAdjust="spacingAndGlyphs" transform="rotate(-30.9 774.7 538.8)">ТЕПЛОСОФТ</text>
<text x="783.5" y="536.9" font-size="3.2" font-weight="normal" fill="#555" fill-opacity="0.7" textLength="42.7" lengthAdjust="spacingAndGlyphs" transform="rotate(-31.1 783.5 536.9)">нагревательная пленка</text>
<text x="830.3" y="506.9" font-size="6.5" font-weight="bold" fill="#222" fill-opacity="0.9" textLength="8.5" lengthAdjust="spacingAndGlyphs" transform="rotate(-31.0 830.3 506.9)">ЕНС</text>
<polygon points="841.8,495.6 843.7,496.3 844.8,495.6 842.9,494.9" fill="#444"/>
<polygon points="844.4,494.0 846.3,494.7 847.4,494.1 845.5,493.4" fill="#444"/>
<polygon points="846.9,492.5 848.9,493.2 850.0,492.5 848.0,491.9" fill="#444"/>
<polygon points="848.0,489.4 855.1,491.9 858.4,490.0 851.3,487.4" fill="#444" fill-opacity="0.8"/>
<polygon points="856.5,486.8 858.4,487.5 859.5,486.9 857.6,486.2" fill="#444"/>
<polygon points="859.0,485.3 860.9,486.0 862.0,485.3 860.1,484.7" fill="#444"/>
<polygon points="861.6,483.8 863.5,484.4 864.6,483.8 862.7,483.1" fill="#444"/>
<defs>
<linearGradient id="gshadow" gradientUnits="userSpaceOnUse" x1="386" y1="424" x2="408" y2="492"><stop offset="0" stop-color="#000" stop-opacity="0.92"/><stop offset="0.15" stop-color="#000" stop-opacity="0.8"/><stop offset="0.3" stop-color="#000" stop-opacity="0.42"/><stop offset="0.6" stop-color="#000" stop-opacity="0.18"/><stop offset="1" stop-color="#000" stop-opacity="0"/></linearGradient>
<linearGradient id="grollshade" gradientUnits="userSpaceOnUse" x1="350" y1="250" x2="400" y2="440"><stop offset="0" stop-color="#000" stop-opacity="0.25"/><stop offset="0.12" stop-color="#000" stop-opacity="0"/><stop offset="0.75" stop-color="#000" stop-opacity="0"/><stop offset="1" stop-color="#000" stop-opacity="0.55"/></linearGradient>
<linearGradient id="gface" gradientUnits="userSpaceOnUse" x1="80" y1="330" x2="175" y2="490"><stop offset="0" stop-color="#f2f2f2"/><stop offset="0.35" stop-color="#d9d9d9"/><stop offset="0.6" stop-color="#e6e6e6"/><stop offset="1" stop-color="#cfcfcf"/></linearGradient>
<radialGradient id="gface2" gradientUnits="userSpaceOnUse" cx="127" cy="410" r="105" gradientTransform="translate(127 410) rotate(-11) scale(0.5 1) translate(-127 -410)"><stop offset="0" stop-color="#dadada"/><stop offset="0.3" stop-color="#d4d4d4"/><stop offset="0.5" stop-color="#bfbfbf"/><stop offset="0.68" stop-color="#d0d0d0"/><stop offset="0.86" stop-color="#bcbcbc"/><stop offset="0.95" stop-color="#cacaca"/><stop offset="1" stop-color="#e2e2e2"/></radialGradient>
<linearGradient id="ggrey" gradientUnits="userSpaceOnUse" x1="150" y1="300" x2="190" y2="510"><stop offset="0" stop-color="#c4c4c4"/><stop offset="0.5" stop-color="#adadad"/><stop offset="1" stop-color="#bdbdbd"/></linearGradient>
<linearGradient id="gcop" gradientUnits="userSpaceOnUse" x1="150" y1="300" x2="190" y2="510"><stop offset="0" stop-color="#f3a56e"/><stop offset="0.35" stop-color="#f08a48"/><stop offset="0.62" stop-color="#f6c09a"/><stop offset="0.75" stop-color="#ee7c38"/><stop offset="1" stop-color="#ef8a4a"/></linearGradient>
<linearGradient id="ghole" gradientUnits="userSpaceOnUse" x1="115" y1="400" x2="140" y2="420"><stop offset="0" stop-color="#a85808"/><stop offset="1" stop-color="#c9720f"/></linearGradient>
</defs>
<g clip-path="url(#csheet)"><polygon points="181.6,495.3 583.0,349.4 609.0,417.4 215.6,573.3" fill="url(#gshadow)"/></g>
<polygon points="552.3,204.9 554.8,204.4 557.4,204.3 560.0,204.5 562.7,205.0 565.4,205.9 568.1,207.2 570.8,208.7 573.5,210.6 576.2,212.8 578.9,215.4 581.5,218.2 584.0,221.3 586.5,224.7 588.9,228.4 591.1,232.2 593.3,236.3 595.4,240.6 597.4,245.1 599.2,249.8 600.9,254.6 602.4,259.5 603.8,264.6 605.1,269.7 606.1,274.8 607.0,280.0 607.7,285.2 608.3,290.4 608.7,295.5 608.9,300.6 608.9,305.6 608.7,310.5 608.3,315.3 607.8,319.9 607.1,324.4 606.2,328.6 605.1,332.7 603.9,336.5 602.6,340.1 601.0,343.4 599.3,346.5 597.5,349.2 595.6,351.7 593.5,353.8 591.3,355.7 589.0,357.2 586.7,358.3 584.2,359.1 581.7,359.6 600.4,354.2 603.0,353.7 605.5,352.9 607.9,351.7 610.3,350.2 612.5,348.3 614.6,346.2 616.7,343.7 618.5,340.9 620.3,337.9 621.9,334.5 623.3,330.9 624.6,327.1 625.7,323.0 626.6,318.8 627.3,314.3 627.9,309.7 628.3,304.9 628.5,300.0 628.5,295.0 628.3,289.9 628.0,284.8 627.4,279.6 626.7,274.4 625.8,269.2 624.8,264.0 623.5,258.9 622.1,253.9 620.6,249.0 618.8,244.2 617.0,239.5 615.0,235.0 612.9,230.7 610.7,226.6 608.3,222.7 605.9,219.1 603.4,215.7 600.8,212.6 598.2,209.8 595.5,207.3 592.7,205.1 590.0,203.2 587.2,201.6 584.4,200.4 581.7,199.5 578.9,199.0 576.2,198.8 573.6,198.9 571.0,199.4" fill="#c4c4c2"/>
<polygon points="552.3,204.9 554.8,204.4 557.4,204.3 560.0,204.5 562.7,205.0 565.4,205.9 568.1,207.2 570.8,208.7 573.5,210.6 576.2,212.8 578.9,215.4 581.5,218.2 584.0,221.3 586.5,224.7 588.9,228.4 591.1,232.2 593.3,236.3 595.4,240.6 597.4,245.1 599.2,249.8 600.9,254.6 602.4,259.5 603.8,264.6 605.1,269.7 606.1,274.8 607.0,280.0 607.7,285.2 608.3,290.4 608.7,295.5 608.9,300.6 608.9,305.6 608.7,310.5 608.3,315.3 607.8,319.9 607.1,324.4 606.2,328.6 605.1,332.7 603.9,336.5 602.6,340.1 601.0,343.4 599.3,346.5 597.5,349.2 595.6,351.7 593.5,353.8 591.3,355.7 589.0,357.2 586.7,358.3 584.2,359.1 581.7,359.6 595.1,356.0 597.7,355.5 600.3,354.7 602.7,353.5 605.0,352.0 607.3,350.2 609.4,348.0 611.4,345.5 613.3,342.7 615.0,339.7 616.6,336.3 618.0,332.7 619.3,328.9 620.4,324.8 621.3,320.5 622.1,316.0 622.6,311.4 623.0,306.6 623.2,301.7 623.2,296.6 623.1,291.5 622.7,286.4 622.2,281.1 621.4,275.9 620.5,270.7 619.5,265.5 618.2,260.4 616.8,255.4 615.3,250.4 613.6,245.6 611.7,240.9 609.7,236.4 607.6,232.1 605.4,228.0 603.0,224.1 600.6,220.5 598.1,217.1 595.5,213.9 592.8,211.1 590.1,208.6 587.4,206.4 584.6,204.5 581.9,202.9 579.1,201.7 576.3,200.8 573.6,200.2 570.9,200.0 568.2,200.2 565.6,200.7" fill="#dadad6"/>
<polygon points="552.3,204.9 554.8,204.4 557.4,204.3 560.0,204.5 562.7,205.0 565.4,205.9 568.1,207.2 570.8,208.7 573.5,210.6 576.2,212.8 578.9,215.4 581.5,218.2 584.0,221.3 586.5,224.7 588.9,228.4 591.1,232.2 593.3,236.3 595.4,240.6 597.4,245.1 599.2,249.8 600.9,254.6 602.4,259.5 603.8,264.6 605.1,269.7 606.1,274.8 607.0,280.0 607.7,285.2 608.3,290.4 608.7,295.5 608.9,300.6 608.9,305.6 608.7,310.5 608.3,315.3 607.8,319.9 607.1,324.4 606.2,328.6 605.1,332.7 603.9,336.5 602.6,340.1 601.0,343.4 599.3,346.5 597.5,349.2 595.6,351.7 593.5,353.8 591.3,355.7 589.0,357.2 586.7,358.3 584.2,359.1 581.7,359.6 591.8,357.0 594.4,356.5 596.8,355.7 599.3,354.5 601.6,353.0 603.8,351.2 605.9,349.0 607.9,346.5 609.7,343.8 611.4,340.7 613.0,337.4 614.4,333.8 615.6,329.9 616.7,325.8 617.6,321.6 618.3,317.1 618.9,312.4 619.2,307.6 619.4,302.7 619.4,297.7 619.2,292.6 618.9,287.4 618.3,282.2 617.6,277.0 616.7,271.8 615.6,266.6 614.4,261.5 613.0,256.4 611.4,251.5 609.7,246.7 607.9,242.0 605.9,237.5 603.8,233.2 601.6,229.0 599.3,225.2 596.9,221.5 594.4,218.1 591.8,215.0 589.2,212.1 586.5,209.6 583.8,207.4 581.1,205.5 578.3,203.9 575.6,202.7 572.9,201.8 570.2,201.2 567.5,201.0 564.9,201.2 562.3,201.6" fill="#f0894a"/>
<polygon points="552.3,204.9 554.8,204.4 557.4,204.3 560.0,204.5 562.7,205.0 565.4,205.9 568.1,207.2 570.8,208.7 573.5,210.6 576.2,212.8 578.9,215.4 581.5,218.2 584.0,221.3 586.5,224.7 588.9,228.4 591.1,232.2 593.3,236.3 595.4,240.6 597.4,245.1 599.2,249.8 600.9,254.6 602.4,259.5 603.8,264.6 605.1,269.7 606.1,274.8 607.0,280.0 607.7,285.2 608.3,290.4 608.7,295.5 608.9,300.6 608.9,305.6 608.7,310.5 608.3,315.3 607.8,319.9 607.1,324.4 606.2,328.6 605.1,332.7 603.9,336.5 602.6,340.1 601.0,343.4 599.3,346.5 597.5,349.2 595.6,351.7 593.5,353.8 591.3,355.7 589.0,357.2 586.7,358.3 584.2,359.1 581.7,359.6 587.9,358.0 590.5,357.5 593.0,356.7 595.4,355.5 597.7,354.0 599.9,352.2 602.0,350.0 603.9,347.6 605.8,344.8 607.4,341.8 609.0,338.4 610.4,334.8 611.6,331.0 612.7,326.9 613.6,322.6 614.3,318.2 614.8,313.5 615.2,308.8 615.4,303.8 615.4,298.8 615.2,293.7 614.8,288.6 614.3,283.4 613.6,278.1 612.7,272.9 611.6,267.8 610.4,262.7 609.0,257.6 607.4,252.7 605.7,247.9 603.9,243.2 601.9,238.7 599.8,234.4 597.6,230.3 595.3,226.4 592.9,222.7 590.4,219.3 587.9,216.2 585.3,213.4 582.6,210.8 579.9,208.6 577.2,206.7 574.4,205.1 571.7,203.9 569.0,203.0 566.3,202.4 563.6,202.2 561.0,202.4 558.5,202.9" fill="#f7f7f5"/>
<g fill="#222"><circle cx="561.5" cy="202.8" r="0.9"/><circle cx="564.2" cy="203.1" r="0.9"/><circle cx="567.0" cy="203.7" r="0.9"/><circle cx="569.9" cy="204.7" r="0.9"/><circle cx="572.7" cy="206.1" r="0.9"/><circle cx="575.6" cy="207.9" r="0.9"/><circle cx="578.4" cy="210.0" r="0.9"/><circle cx="581.2" cy="212.4" r="0.9"/><circle cx="584.0" cy="215.2" r="0.9"/><circle cx="586.7" cy="218.3" r="0.9"/><circle cx="589.3" cy="221.7" r="0.9"/><circle cx="591.9" cy="225.4" r="0.9"/><circle cx="594.3" cy="229.3" r="0.9"/><circle cx="596.6" cy="233.6" r="0.9"/><circle cx="598.9" cy="238.0" r="0.9"/><circle cx="601.0" cy="242.7" r="0.9"/><circle cx="602.9" cy="247.5" r="0.9"/><circle cx="604.7" cy="252.5" r="0.9"/><circle cx="606.4" cy="257.6" r="0.9"/><circle cx="607.8" cy="262.9" r="0.9"/><circle cx="609.1" cy="268.2" r="0.9"/><circle cx="610.3" cy="273.6" r="0.9"/><circle cx="611.2" cy="279.1" r="0.9"/><circle cx="611.9" cy="284.5" r="0.9"/><circle cx="612.5" cy="290.0" r="0.9"/><circle cx="612.8" cy="295.3" r="0.9"/><circle cx="613.0" cy="300.7" r="0.9"/><circle cx="613.0" cy="305.9" r="0.9"/><circle cx="612.7" cy="311.0" r="0.9"/><circle cx="612.3" cy="315.9" r="0.9"/><circle cx="611.7" cy="320.7" r="0.9"/><circle cx="610.8" cy="325.3" r="0.9"/><circle cx="609.8" cy="329.7" r="0.9"/><circle cx="608.6" cy="333.8" r="0.9"/><circle cx="607.2" cy="337.7" r="0.9"/><circle cx="605.7" cy="341.3" r="0.9"/><circle cx="604.0" cy="344.6" r="0.9"/><circle cx="602.1" cy="347.6" r="0.9"/><circle cx="600.1" cy="350.2" r="0.9"/><circle cx="598.0" cy="352.6" r="0.9"/><circle cx="595.7" cy="354.5" r="0.9"/><circle cx="593.3" cy="356.2" r="0.9"/><circle cx="590.8" cy="357.4" r="0.9"/></g>
<polygon points="144.4,300.7 147.4,300.2 150.4,300.2 153.6,300.6 156.8,301.5 160.0,302.8 163.3,304.5 166.6,306.7 170.0,309.2 173.3,312.2 176.5,315.5 179.8,319.3 183.0,323.3 186.1,327.8 189.2,332.5 192.1,337.6 195.0,342.9 197.8,348.5 200.4,354.3 202.9,360.3 205.2,366.5 207.4,372.9 209.4,379.4 211.2,386.0 212.8,392.7 214.3,399.4 215.5,406.1 216.6,412.8 217.4,419.5 218.0,426.1 218.4,432.6 218.6,439.0 218.6,445.2 218.4,451.2 217.9,457.1 217.3,462.7 216.4,468.0 215.3,473.1 214.0,477.9 212.5,482.3 210.9,486.4 209.0,490.2 207.0,493.6 204.8,496.6 202.4,499.1 199.9,501.3 197.3,503.1 194.5,504.4 191.6,505.3 583.0,359.4 585.4,358.8 587.8,357.8 590.1,356.5 592.3,354.9 594.4,353.0 596.4,350.8 598.2,348.3 599.9,345.5 601.5,342.4 603.0,339.0 604.3,335.5 605.4,331.7 606.4,327.6 607.3,323.4 607.9,319.0 608.4,314.5 608.7,309.8 608.9,305.0 608.8,300.1 608.6,295.1 608.3,290.1 607.7,285.0 607.0,279.9 606.1,274.8 605.1,269.8 603.9,264.8 602.5,259.9 601.0,255.0 599.4,250.3 597.6,245.7 595.7,241.3 593.7,237.1 591.6,233.0 589.4,229.2 587.0,225.6 584.7,222.2 582.2,219.1 579.7,216.2 577.1,213.6 574.5,211.4 571.8,209.4 569.2,207.7 566.5,206.4 563.9,205.4 561.3,204.7 558.7,204.3 556.1,204.3 553.6,204.6" fill="#1f1e1e"/>
<defs><clipPath id="cbody"><polygon points="144.4,300.7 147.4,300.2 150.4,300.2 153.6,300.6 156.8,301.5 160.0,302.8 163.3,304.5 166.6,306.7 170.0,309.2 173.3,312.2 176.5,315.5 179.8,319.3 183.0,323.3 186.1,327.8 189.2,332.5 192.1,337.6 195.0,342.9 197.8,348.5 200.4,354.3 202.9,360.3 205.2,366.5 207.4,372.9 209.4,379.4 211.2,386.0 212.8,392.7 214.3,399.4 215.5,406.1 216.6,412.8 217.4,419.5 218.0,426.1 218.4,432.6 218.6,439.0 218.6,445.2 218.4,451.2 217.9,457.1 217.3,462.7 216.4,468.0 215.3,473.1 214.0,477.9 212.5,482.3 210.9,486.4 209.0,490.2 207.0,493.6 204.8,496.6 202.4,499.1 199.9,501.3 197.3,503.1 194.5,504.4 191.6,505.3 583.0,359.4 585.4,358.8 587.8,357.8 590.1,356.5 592.3,354.9 594.4,353.0 596.4,350.8 598.2,348.3 599.9,345.5 601.5,342.4 603.0,339.0 604.3,335.5 605.4,331.7 606.4,327.6 607.3,323.4 607.9,319.0 608.4,314.5 608.7,309.8 608.9,305.0 608.8,300.1 608.6,295.1 608.3,290.1 607.7,285.0 607.0,279.9 606.1,274.8 605.1,269.8 603.9,264.8 602.5,259.9 601.0,255.0 599.4,250.3 597.6,245.7 595.7,241.3 593.7,237.1 591.6,233.0 589.4,229.2 587.0,225.6 584.7,222.2 582.2,219.1 579.7,216.2 577.1,213.6 574.5,211.4 571.8,209.4 569.2,207.7 566.5,206.4 563.9,205.4 561.3,204.7 558.7,204.3 556.1,204.3 553.6,204.6" /></clipPath></defs>
<g clip-path="url(#cbody)">
<polygon points="213.8,396.9 606.3,275.5 608.2,289.6 216.9,415.6" fill="#e2e2e0"/>
<polygon points="213.4,395.1 606.0,274.1 606.5,276.9 214.2,398.8" fill="#e9e9e6"/>
<polygon points="216.7,413.7 608.1,288.2 608.3,291.0 217.2,417.4" fill="#e9e9e6"/>
<polygon points="209.8,380.9 603.5,263.4 604.2,266.2 210.8,384.6" fill="#e9e9e6"/>
<polygon points="218.2,427.8 608.8,298.9 608.9,301.7 218.4,431.5" fill="#e9e9e6"/>
<polygon points="205.4,367.1 600.4,253.1 601.3,255.7 206.6,370.7" fill="#e9e9e6"/>
<polygon points="218.7,441.5 608.7,309.3 608.6,311.9 218.6,444.9" fill="#e9e9e6"/>
<polygon points="200.3,354.1 596.6,243.3 597.6,245.8 201.7,357.4" fill="#e9e9e6"/>
<polygon points="218.2,454.4 607.9,319.2 607.5,321.6 217.9,457.6" fill="#e9e9e6"/>
<polygon points="194.5,341.9 592.3,234.3 593.5,236.6 196.1,345.0" fill="#e9e9e6"/>
<polygon points="216.7,466.3 606.3,328.3 605.7,330.6 216.2,469.2" fill="#e9e9e6"/>
<polygon points="188.3,331.0 587.5,226.2 588.8,228.2 189.9,333.8" fill="#e9e9e6"/>
<polygon points="214.3,476.9 603.9,336.5 603.2,338.5 213.5,479.5" fill="#e9e9e6"/>
<polygon points="181.6,321.5 582.3,219.2 583.7,220.9 183.4,323.9" fill="#e9e9e6"/>
<polygon points="211.0,486.2 600.9,343.7 600.0,345.4 210.0,488.3" fill="#e9e9e6"/>
<polygon points="174.7,313.6 576.9,213.4 578.3,214.8 176.5,315.5" fill="#e9e9e6"/>
<polygon points="206.8,493.8 597.2,349.7 596.1,351.1 205.6,495.5" fill="#e9e9e6"/>
<polygon points="167.6,307.4 571.3,209.0 572.8,210.0 169.5,308.8" fill="#e9e9e6"/>
<polygon points="201.9,499.6 592.9,354.4 591.7,355.4 200.5,500.8" fill="#e9e9e6"/>
<polygon points="160.6,303.0 565.6,206.0 567.1,206.6 162.4,304.0" fill="#e9e9e6"/>
<polygon points="196.4,503.6 588.2,357.6 586.9,358.2 194.8,504.3" fill="#e9e9e6"/>
<polygon points="153.7,300.7 560.0,204.5 561.5,204.7 155.5,301.1" fill="#e9e9e6"/>
<polygon points="190.2,505.6 583.1,359.4 581.7,359.6 188.6,505.8" fill="#e9e9e6"/>
<polygon points="147.0,300.3 554.6,204.4 556.0,204.3 148.7,300.2" fill="#e9e9e6"/>
<polygon points="140.8,301.9 549.4,205.9 550.7,205.4 142.4,301.3" fill="#e9e9e6"/>
<polygon points="219.1,398.3 221.3,411.2 232.2,407.7 230.1,394.9" fill="#0b0b0b"/>
<polygon points="244.8,396.1 245.1,397.9 246.7,397.4 246.4,395.6" fill="#333"/>
<polygon points="248.7,394.9 249.0,396.6 250.6,396.1 250.3,394.4" fill="#333"/>
<polygon points="252.6,393.6 252.9,395.4 254.5,394.9 254.2,393.1" fill="#333"/>
<polygon points="257.3,389.4 258.4,396.4 263.1,394.9 262.0,387.9" fill="#444" fill-opacity="0.8"/>
<polygon points="265.6,389.6 265.9,391.3 267.4,390.8 267.1,389.1" fill="#333"/>
<polygon points="269.5,388.3 269.8,390.1 271.3,389.6 271.0,387.8" fill="#333"/>
<polygon points="273.4,387.1 273.7,388.8 275.3,388.3 275.0,386.6" fill="#333"/>
<polygon points="277.3,385.9 277.6,387.6 279.2,387.1 278.9,385.4" fill="#333"/>
<text x="306.9" y="372.8" font-size="10" font-weight="bold" fill="#222" fill-opacity="0.9" textLength="16.4" lengthAdjust="spacingAndGlyphs" transform="rotate(162.6 306.9 372.8)">ЕНС</text>
<text x="373.8" y="353.6" font-size="9.8" font-weight="normal" fill="#222" fill-opacity="0.9" textLength="53.4" lengthAdjust="spacingAndGlyphs" transform="rotate(162.6 373.8 353.6)">ТЕПЛОСОФТ</text>
<text x="373.1" y="349.9" font-size="3.6" font-weight="normal" fill="#555" fill-opacity="0.75" textLength="47.2" lengthAdjust="spacingAndGlyphs" transform="rotate(162.7 373.1 349.9)">нагревательная пленка</text>
<text x="431.5" y="341.0" font-size="5.2" font-weight="normal" fill="#2a2a2a" fill-opacity="0.9" textLength="35.8" lengthAdjust="spacingAndGlyphs" transform="rotate(162.4 431.5 341.0)">ТеплоСофт</text>
<text x="436.8" y="335.7" font-size="5.2" font-weight="normal" fill="#2a2a2a" fill-opacity="0.9" textLength="41.9" lengthAdjust="spacingAndGlyphs" transform="rotate(162.5 436.8 335.7)">мягкое тепло</text>
<text x="444.1" y="329.9" font-size="5.2" font-weight="bold" fill="#2a2a2a" fill-opacity="0.9" textLength="50.1" lengthAdjust="spacingAndGlyphs" transform="rotate(162.6 444.1 329.9)">для вашего дома</text>
<ellipse cx="454.6" cy="330.8" rx="6.2" ry="5.2" fill="#1a1a1a"/>
<text x="525.2" y="309.4" font-size="6.2" font-weight="bold" fill="#2a2a2a" fill-opacity="0.9" textLength="41.1" lengthAdjust="spacingAndGlyphs" transform="rotate(162.4 525.2 309.4)">Made in Korea</text>
<text x="522.6" y="305.4" font-size="5.6" font-weight="normal" fill="#2a2a2a" fill-opacity="0.9" textLength="39.0" lengthAdjust="spacingAndGlyphs" transform="rotate(162.6 522.6 305.4)">Теплософт.рф</text>
<text x="564.5" y="297.3" font-size="5.4" font-weight="normal" fill="#2a2a2a" fill-opacity="0.9" textLength="22.6" lengthAdjust="spacingAndGlyphs" transform="rotate(162.4 564.5 297.3)">ISO 9001</text>
<text x="563.9" y="293.3" font-size="5.4" font-weight="normal" fill="#2a2a2a" fill-opacity="0.9" textLength="24.7" lengthAdjust="spacingAndGlyphs" transform="rotate(162.6 563.9 293.3)">ISO 14001</text>
<polygon points="574.0,292.4 574.2,293.8 575.4,293.4 575.2,292.0" fill="#444"/>
<polygon points="577.1,291.4 577.3,292.8 578.5,292.4 578.3,291.0" fill="#444"/>
<polygon points="580.3,290.4 580.5,291.8 581.6,291.4 581.4,290.0" fill="#444"/>
<polygon points="583.5,287.5 584.2,292.5 588.1,291.2 587.4,286.2" fill="#444" fill-opacity="0.8"/>
<polygon points="589.7,287.4 589.9,288.8 591.0,288.4 590.8,287.1" fill="#444"/>
<polygon points="592.8,286.4 593.0,287.8 594.2,287.4 594.0,286.1" fill="#444"/>
<polygon points="595.9,285.4 596.1,286.8 597.3,286.4 597.1,285.1" fill="#444"/>
<polygon points="596.9,281.0 598.2,290.3 605.2,288.0 603.9,278.8" fill="#0b0b0b"/>
<polygon points="144.4,300.7 147.4,300.2 150.4,300.2 153.6,300.6 156.8,301.5 160.0,302.8 163.3,304.5 166.6,306.7 170.0,309.2 173.3,312.2 176.5,315.5 179.8,319.3 183.0,323.3 186.1,327.8 189.2,332.5 192.1,337.6 195.0,342.9 197.8,348.5 200.4,354.3 202.9,360.3 205.2,366.5 207.4,372.9 209.4,379.4 211.2,386.0 212.8,392.7 214.3,399.4 215.5,406.1 216.6,412.8 217.4,419.5 218.0,426.1 218.4,432.6 218.6,439.0 218.6,445.2 218.4,451.2 217.9,457.1 217.3,462.7 216.4,468.0 215.3,473.1 214.0,477.9 212.5,482.3 210.9,486.4 209.0,490.2 207.0,493.6 204.8,496.6 202.4,499.1 199.9,501.3 197.3,503.1 194.5,504.4 191.6,505.3 583.0,359.4 585.4,358.8 587.8,357.8 590.1,356.5 592.3,354.9 594.4,353.0 596.4,350.8 598.2,348.3 599.9,345.5 601.5,342.4 603.0,339.0 604.3,335.5 605.4,331.7 606.4,327.6 607.3,323.4 607.9,319.0 608.4,314.5 608.7,309.8 608.9,305.0 608.8,300.1 608.6,295.1 608.3,290.1 607.7,285.0 607.0,279.9 606.1,274.8 605.1,269.8 603.9,264.8 602.5,259.9 601.0,255.0 599.4,250.3 597.6,245.7 595.7,241.3 593.7,237.1 591.6,233.0 589.4,229.2 587.0,225.6 584.7,222.2 582.2,219.1 579.7,216.2 577.1,213.6 574.5,211.4 571.8,209.4 569.2,207.7 566.5,206.4 563.9,205.4 561.3,204.7 558.7,204.3 556.1,204.3 553.6,204.6" fill="url(#grollshade)"/>
</g>
<polygon points="126.0,303.9 129.2,302.7 132.5,302.0 135.9,301.8 139.3,302.0 142.9,302.8 146.5,304.1 150.1,305.8 153.7,308.1 157.4,310.8 161.0,313.9 164.6,317.6 168.1,321.6 171.6,326.0 175.0,330.8 178.2,336.0 181.4,341.5 184.4,347.4 187.3,353.5 190.0,359.8 192.5,366.4 194.8,373.1 196.9,380.0 198.9,387.1 200.6,394.2 202.0,401.3 203.3,408.5 204.2,415.7 205.0,422.8 205.5,429.8 205.7,436.7 205.7,443.4 205.4,450.0 204.9,456.3 204.1,462.4 203.1,468.2 201.8,473.7 200.3,478.8 198.6,483.6 196.7,488.0 194.5,492.0 192.2,495.6 189.6,498.7 186.9,501.4 184.0,503.5 181.0,505.3 177.8,506.5 174.5,507.2 171.1,507.4 186.8,505.8 190.0,505.6 193.2,504.9 196.2,503.7 199.0,502.0 201.8,499.8 204.3,497.1 206.7,494.0 208.9,490.4 210.9,486.4 212.6,482.0 214.2,477.2 215.5,472.1 216.6,466.6 217.5,460.8 218.1,454.8 218.5,448.4 218.7,441.9 218.6,435.2 218.2,428.3 217.6,421.3 216.8,414.1 215.7,407.0 214.4,399.8 212.8,392.7 211.1,385.5 209.1,378.5 206.9,371.6 204.6,364.9 202.0,358.3 199.3,351.9 196.5,345.8 193.5,340.0 190.4,334.5 187.2,329.3 183.8,324.5 180.4,320.0 177.0,316.0 173.5,312.4 170.0,309.2 166.4,306.5 162.9,304.3 159.4,302.5 155.9,301.2 152.5,300.4 149.2,300.2 146.0,300.4 142.8,301.1 139.8,302.3" fill="#f5f5f3"/>
<path d="M143.0,301.6L149.9,300.8 M145.6,302.1L152.5,301.3 M148.3,302.9L155.1,302.1 M151.0,304.0L157.7,303.2 M153.7,305.4L160.3,304.6 M156.4,307.0L163.0,306.2 M159.1,308.9L165.7,308.1 M161.8,311.1L168.3,310.3 M164.5,313.5L171.0,312.7 M167.2,316.2L173.6,315.4 M169.8,319.1L176.2,318.3 M172.4,322.2L178.8,321.4 M175.0,325.6L181.4,324.8 M177.5,329.2L183.9,328.4 M180.0,333.0L186.3,332.2 M182.4,336.9L188.7,336.1 M184.8,341.1L191.1,340.3 M187.0,345.4L193.3,344.7 M189.2,349.9L195.5,349.2 M191.3,354.6L197.6,353.8 M193.3,359.4L199.6,358.6 M195.3,364.3L201.5,363.5 M197.1,369.3L203.4,368.5 M198.8,374.4L205.1,373.6 M200.3,379.6L206.7,378.8 M201.8,384.9L208.2,384.1 M203.2,390.2L209.5,389.4 M204.4,395.5L210.8,394.7 M205.5,400.9L211.9,400.1 M206.4,406.3L212.9,405.5 M207.3,411.7L213.7,410.9 M208.0,417.0L214.5,416.2 M208.5,422.3L215.1,421.6 M208.9,427.6L215.5,426.8 M209.2,432.8L215.9,432.0 M209.3,438.0L216.0,437.2 M209.3,443.0L216.1,442.2 M209.2,447.9L216.0,447.1 M208.9,452.7L215.7,451.9 M208.5,457.4L215.4,456.6 M207.9,461.9L214.8,461.1 M207.2,466.3L214.2,465.5 M206.3,470.5L213.4,469.7 M205.3,474.5L212.5,473.7 M204.2,478.4L211.4,477.6 M203.0,482.0L210.3,481.2 M201.6,485.4L209.0,484.6 M200.1,488.6L207.5,487.8 M198.5,491.5L206.0,490.7 M196.8,494.3L204.4,493.4 M195.0,496.7L202.6,495.9 M193.1,499.0L200.7,498.1 M191.1,500.9L198.8,500.1 M188.9,502.6L196.7,501.8 M186.7,504.0L194.6,503.2 M184.5,505.2L192.4,504.3" stroke="#1c1c1c" stroke-width="1.7" fill="none"/>
<polygon points="117.5,305.0 120.7,303.8 124.1,303.1 127.6,302.8 131.1,303.1 134.8,303.9 138.4,305.1 142.1,306.9 145.8,309.1 149.5,311.8 153.2,315.0 156.9,318.6 160.4,322.6 163.9,327.1 167.4,331.9 170.6,337.0 173.8,342.6 176.8,348.4 179.7,354.5 182.4,360.8 184.9,367.4 187.2,374.1 189.3,381.0 191.2,388.0 192.9,395.1 194.3,402.3 195.5,409.5 196.4,416.6 197.1,423.7 197.5,430.7 197.7,437.6 197.6,444.4 197.2,450.9 196.6,457.2 195.8,463.3 194.7,469.1 193.3,474.6 191.7,479.7 189.9,484.5 187.8,488.9 185.6,492.9 183.1,496.5 180.5,499.6 177.7,502.3 174.7,504.5 171.5,506.2 168.3,507.4 164.9,508.1 161.4,508.4 171.1,507.4 174.5,507.2 177.8,506.5 181.0,505.3 184.0,503.5 186.9,501.4 189.6,498.7 192.2,495.6 194.5,492.0 196.7,488.0 198.6,483.6 200.3,478.8 201.8,473.7 203.1,468.2 204.1,462.4 204.9,456.3 205.4,450.0 205.7,443.4 205.7,436.7 205.5,429.8 205.0,422.8 204.2,415.7 203.3,408.5 202.0,401.3 200.6,394.2 198.9,387.1 196.9,380.0 194.8,373.1 192.5,366.4 190.0,359.8 187.3,353.5 184.4,347.4 181.4,341.5 178.2,336.0 175.0,330.8 171.6,326.0 168.1,321.6 164.6,317.6 161.0,313.9 157.4,310.8 153.7,308.1 150.1,305.8 146.5,304.1 142.9,302.8 139.3,302.0 135.9,301.8 132.5,302.0 129.2,302.7 126.0,303.9" fill="url(#gcop)"/>
<polygon points="101.8,307.5 105.4,306.3 109.0,305.6 112.7,305.4 116.5,305.7 120.3,306.5 124.2,307.8 128.1,309.6 132.0,311.8 135.8,314.5 139.6,317.7 143.4,321.3 147.1,325.4 150.6,329.8 154.1,334.6 157.4,339.8 160.6,345.3 163.6,351.1 166.5,357.2 169.1,363.6 171.5,370.1 173.8,376.9 175.8,383.8 177.5,390.8 179.0,397.9 180.3,405.0 181.3,412.2 182.0,419.3 182.5,426.4 182.7,433.4 182.6,440.3 182.3,447.0 181.6,453.5 180.8,459.8 179.6,465.9 178.2,471.6 176.6,477.1 174.7,482.2 172.5,487.0 170.2,491.4 167.6,495.3 164.9,498.9 161.9,502.0 158.8,504.6 155.6,506.8 152.2,508.5 148.6,509.7 145.0,510.4 141.3,510.6 161.4,508.4 164.9,508.1 168.3,507.4 171.5,506.2 174.7,504.5 177.7,502.3 180.5,499.6 183.1,496.5 185.6,492.9 187.8,488.9 189.9,484.5 191.7,479.7 193.3,474.6 194.7,469.1 195.8,463.3 196.6,457.2 197.2,450.9 197.6,444.4 197.7,437.6 197.5,430.7 197.1,423.7 196.4,416.6 195.5,409.5 194.3,402.3 192.9,395.1 191.2,388.0 189.3,381.0 187.2,374.1 184.9,367.4 182.4,360.8 179.7,354.5 176.8,348.4 173.8,342.6 170.6,337.0 167.4,331.9 163.9,327.1 160.4,322.6 156.9,318.6 153.2,315.0 149.5,311.8 145.8,309.1 142.1,306.9 138.4,305.1 134.8,303.9 131.1,303.1 127.6,302.8 124.1,303.1 120.7,303.8 117.5,305.0" fill="url(#ggrey)"/>
<ellipse cx="127.0" cy="408.0" rx="53.0" ry="104.0" transform="rotate(-11 127.0 408.0)" fill="#ebebeb"/>
<ellipse cx="128.0" cy="408.0" rx="50.5" ry="101.0" transform="rotate(-11 128.0 408.0)" fill="url(#gface2)"/>
<defs><linearGradient id="gfsh" gradientUnits="userSpaceOnUse" x1="90" y1="340" x2="175" y2="480"><stop offset="0" stop-color="#fff" stop-opacity="0.18"/><stop offset="0.45" stop-color="#888" stop-opacity="0"/><stop offset="1" stop-color="#000" stop-opacity="0.16"/></linearGradient></defs>
<ellipse cx="128.0" cy="408.0" rx="50.5" ry="101.0" transform="rotate(-11 128.0 408.0)" fill="url(#gfsh)"/>
<ellipse cx="127.5" cy="411.5" rx="14.2" ry="26.4" transform="rotate(-9 127.5 411.5)" fill="#ecd2c2"/>
<ellipse cx="127.7" cy="411.3" rx="12.4" ry="24.6" transform="rotate(-9 127.7 411.3)" fill="#e0a070"/>
<ellipse cx="128.1" cy="411.3" rx="11.2" ry="23.2" transform="rotate(-9 128.1 411.3)" fill="url(#ghole)"/>
<defs><clipPath id="cin"><circle cx="175" cy="893.5" r="161"/></clipPath>
<linearGradient id="gcu" gradientUnits="userSpaceOnUse" x1="90" y1="740" x2="150" y2="1050"><stop offset="0" stop-color="#c98a66"/><stop offset="0.3" stop-color="#b8703f"/><stop offset="0.55" stop-color="#c47c52"/><stop offset="0.8" stop-color="#d08a68"/><stop offset="1" stop-color="#d39070"/></linearGradient>
<linearGradient id="gblue" gradientUnits="userSpaceOnUse" x1="14" y1="800" x2="110" y2="900"><stop offset="0" stop-color="#e3e8ea"/><stop offset="1" stop-color="#cfd9de"/></linearGradient>
</defs>
<circle cx="175" cy="893.5" r="161.6" fill="#77797a"/>
<g clip-path="url(#cin)">
<rect x="0" y="720" width="350" height="350" fill="#0a0a0c"/>
<polygon points="100,737.5 345,741.0 345,747.5 100,744.0" fill="#dbe3ea"/>
<polygon points="100,789.1 345,792.6 345,799.1 100,795.6" fill="#dbe3ea"/>
<polygon points="100,841.5 345,845.0 345,851.5 100,848.0" fill="#dbe3ea"/>
<polygon points="100,892.5 345,896.0 345,902.5 100,899.0" fill="#dbe3ea"/>
<polygon points="100,944.1 345,947.6 345,954.1 100,950.6" fill="#dbe3ea"/>
<polygon points="100,995.8 345,999.3 345,1005.8 100,1002.3" fill="#dbe3ea"/>
<polygon points="100,1047.5 345,1051.0 345,1057.5 100,1054.0" fill="#dbe3ea"/>
<path d="M0,720 L80,720 Q86,890 120,1060 L0,1060 Z" fill="url(#gblue)"/>
<path d="M74,720 Q81,890 117.5,1060" fill="none" stroke="#15161a" stroke-width="3" stroke-dasharray="44 7" stroke-dashoffset="30"/>
<path d="M79,720 Q85.2,890 118,1060 L175.5,1060 Q141.4,890 129.5,720 Z" fill="#f3e6dc"/>
<path d="M81.5,720 Q87.7,890 120.5,1060 L172,1060 Q138.4,890 126.5,720 Z" fill="url(#gcu)"/>
</g>
<g fill="#e4571a">
<rect x="700" y="293.5" width="6" height="109"/>
<rect x="759" y="541.7" width="197.6" height="5.3"/>
<rect x="951.2" y="541.7" width="5.4" height="98"/>
<rect x="588.2" y="683" width="5.6" height="108.7"/>
<rect x="159" y="662" width="6" height="107.4"/>
<rect x="110" y="859.4" width="345.5" height="5.2"/>
<rect x="450.3" y="859.4" width="5.2" height="58.6"/>
<rect x="164" y="1018.2" width="840" height="5.2"/>
</g>
<text x="652.2" y="233.0" font-size="37.5" font-weight="bold" fill="#111111" textLength="168.8" lengthAdjust="spacingAndGlyphs">Основная</text>
<text x="652.5" y="284.8" font-size="37.5" font-weight="bold" fill="#111111" textLength="220.0" lengthAdjust="spacingAndGlyphs">поверхность</text>
<text x="18.8" y="653.2" font-size="37.5" font-weight="bold" fill="#111111" textLength="160.7" lengthAdjust="spacingAndGlyphs">Толщина</text>
<text x="188" y="653.2" font-size="37.5" font-weight="bold" fill="#111111" textLength="126.0" lengthAdjust="spacingAndGlyphs">0,38мм</text>
<text x="789.6" y="689.6" font-size="37.5" font-weight="bold" fill="#111111" textLength="281.0" lengthAdjust="spacingAndGlyphs">Ламинирующая</text>
<text x="791" y="741.3" font-size="37.5" font-weight="bold" fill="#111111" textLength="220.0" lengthAdjust="spacingAndGlyphs">поверхность</text>
<text x="400" y="828.4" font-size="37.5" font-weight="bold" fill="#111111" textLength="218.5" lengthAdjust="spacingAndGlyphs">Углеродный</text>
<text x="628.5" y="828.4" font-size="37.5" font-weight="bold" fill="#111111" textLength="280.5" lengthAdjust="spacingAndGlyphs">нагревательный</text>
<text x="922" y="828.4" font-size="37.5" font-weight="bold" fill="#111111" textLength="144.0" lengthAdjust="spacingAndGlyphs">элемент</text>
<text x="368.2" y="949.2" font-size="37.5" font-weight="bold" fill="#111111" textLength="135.8" lengthAdjust="spacingAndGlyphs">Медная</text>
<text x="515.8" y="949.2" font-size="37.5" font-weight="bold" fill="#111111" textLength="296.2" lengthAdjust="spacingAndGlyphs">токопроводящая</text>
<text x="822.3" y="949.2" font-size="37.5" font-weight="bold" fill="#111111" textLength="94.7" lengthAdjust="spacingAndGlyphs">жила</text>
<text x="330" y="1009.6" font-size="37.5" font-weight="bold" fill="#111111" textLength="205.5" lengthAdjust="spacingAndGlyphs">Серебряное</text>
<text x="549" y="1009.6" font-size="37.5" font-weight="bold" fill="#111111" textLength="236.5" lengthAdjust="spacingAndGlyphs">антиискровое</text>
<text x="800" y="1009.6" font-size="37.5" font-weight="bold" fill="#111111" textLength="195.0" lengthAdjust="spacingAndGlyphs">напыление</text>
<defs><radialGradient id="gsph" gradientUnits="userSpaceOnUse" cx="60" cy="70" r="62"><stop offset="0" stop-color="#fff6b8"/><stop offset="0.1" stop-color="#f8d830"/><stop offset="0.35" stop-color="#f0b818"/><stop offset="0.62" stop-color="#e08c10"/><stop offset="1" stop-color="#cf7008"/></radialGradient>
<linearGradient id="gsphd" gradientUnits="userSpaceOnUse" x1="78" y1="70" x2="132" y2="104"><stop offset="0" stop-color="#b85008" stop-opacity="0"/><stop offset="0.35" stop-color="#b85008" stop-opacity="0.55"/><stop offset="0.7" stop-color="#7a3006" stop-opacity="0.85"/><stop offset="1" stop-color="#2a0c02" stop-opacity="1"/></linearGradient>
<clipPath id="csph"><circle cx="86.1" cy="91.4" r="44"/></clipPath></defs>
<circle cx="86.1" cy="91.4" r="44" fill="url(#gsph)"/>
<circle cx="86.1" cy="91.4" r="44" fill="url(#gsphd)"/>
<g clip-path="url(#csph)" fill="#fffaf0">
<polygon points="106.7,50.6 105.9,50.4 105.0,50.5 103.9,50.7 102.7,50.9 101.4,51.1 100.0,51.4 98.6,51.7 97.2,52.0 95.7,52.4 94.3,52.9 93.0,53.3 91.7,53.9 90.4,54.4 89.2,55.0 87.9,55.6 86.6,56.3 85.3,57.0 84.0,57.8 82.8,58.6 81.6,59.4 80.5,60.2 79.4,61.0 78.4,61.8 77.6,62.7 76.8,63.6 76.2,64.4 75.6,65.3 75.1,66.2 74.7,67.2 74.4,68.1 74.1,69.0 73.9,69.9 73.8,70.9 73.7,71.8 73.6,72.8 73.5,73.8 73.5,74.9 73.5,76.1 73.6,77.3 73.8,78.5 74.0,79.7 74.2,80.9 74.4,82.1 74.7,83.3 74.9,84.5 75.2,85.6 75.4,86.7 75.7,87.7 76.0,88.8 76.3,89.9 76.6,90.9 77.0,91.8 77.3,92.8 77.7,93.7 78.0,94.5 78.3,95.4 78.5,96.1 78.7,96.9 78.8,97.6 78.8,98.4 78.8,99.1 78.8,99.9 78.7,100.7 78.5,101.5 78.4,102.4 78.2,103.2 77.9,104.0 77.6,104.8 77.3,105.6 77.0,106.4 76.6,107.2 76.2,108.0 75.8,108.8 75.4,109.5 74.9,110.3 74.4,111.0 73.8,111.7 73.2,112.5 72.6,113.2 72.0,113.9 71.3,114.7 70.6,115.4 69.9,116.1 69.2,116.8 68.4,117.5 67.5,118.3 66.6,119.1 65.5,119.9 64.5,120.7 63.5,121.5 62.5,122.3 61.5,123.0 60.6,123.7 59.9,124.3 59.3,124.9 58.9,125.6 58.9,125.6 59.6,125.5 60.4,125.1 61.3,124.7 62.3,124.2 63.3,123.6 64.4,123.0 65.6,122.3 66.7,121.6 67.8,120.9 68.9,120.1 69.9,119.4 70.8,118.7 71.7,118.1 72.5,117.4 73.3,116.7 74.1,116.0 74.8,115.3 75.5,114.5 76.3,113.8 76.9,113.0 77.6,112.2 78.2,111.4 78.8,110.6 79.3,109.8 79.8,108.9 80.3,108.0 80.7,107.1 81.2,106.2 81.5,105.3 81.9,104.3 82.2,103.4 82.4,102.4 82.6,101.4 82.8,100.4 82.9,99.4 82.9,98.3 82.9,97.2 82.8,96.2 82.6,95.1 82.3,94.1 82.0,93.2 81.7,92.2 81.3,91.3 81.0,90.4 80.7,89.5 80.4,88.6 80.1,87.7 79.9,86.7 79.6,85.7 79.4,84.6 79.1,83.5 78.9,82.3 78.6,81.2 78.4,80.1 78.1,78.9 77.9,77.9 77.8,76.8 77.7,75.8 77.6,74.9 77.6,74.0 77.6,73.1 77.7,72.2 77.8,71.4 77.8,70.6 78.0,69.9 78.1,69.1 78.3,68.5 78.6,67.8 78.9,67.1 79.2,66.5 79.7,65.8 80.2,65.1 80.9,64.3 81.6,63.6 82.5,62.8 83.5,62.0 84.6,61.2 85.7,60.4 86.9,59.6 88.1,58.9 89.3,58.1 90.5,57.4 91.6,56.8 92.8,56.1 93.9,55.6 95.1,55.0 96.4,54.5 97.8,54.0 99.2,53.5 100.5,53.1 101.8,52.6 103.1,52.2 104.2,51.8 105.2,51.5 106.1,51.1 106.7,50.6" />
<polygon points="114.4,54.4 113.7,54.3 112.9,54.4 111.9,54.6 110.8,54.8 109.6,55.0 108.4,55.3 107.1,55.6 105.7,55.9 104.4,56.3 103.1,56.8 101.8,57.2 100.6,57.8 99.4,58.3 98.1,58.9 96.9,59.5 95.6,60.2 94.3,60.9 93.0,61.7 91.8,62.4 90.6,63.2 89.4,64.1 88.3,64.9 87.4,65.7 86.5,66.6 85.7,67.4 85.0,68.3 84.4,69.2 83.8,70.1 83.4,71.1 83.0,72.0 82.7,72.9 82.4,73.9 82.2,74.8 82.0,75.8 81.9,76.7 81.8,77.7 81.8,78.7 81.9,79.8 82.0,80.8 82.2,81.9 82.5,82.9 82.8,83.9 83.1,84.8 83.4,85.8 83.7,86.7 84.0,87.7 84.3,88.6 84.6,89.5 84.9,90.5 85.3,91.5 85.7,92.6 86.1,93.5 86.5,94.5 86.8,95.5 87.2,96.4 87.5,97.3 87.8,98.2 88.0,99.1 88.2,99.9 88.3,100.7 88.3,101.5 88.3,102.3 88.3,103.2 88.2,104.0 88.0,104.9 87.9,105.7 87.7,106.6 87.4,107.4 87.2,108.3 86.9,109.2 86.5,110.0 86.2,110.9 85.8,111.8 85.3,112.6 84.9,113.5 84.3,114.4 83.8,115.3 83.2,116.2 82.5,117.1 81.9,118.0 81.2,118.9 80.5,119.7 79.8,120.5 79.1,121.3 78.4,122.1 77.5,122.9 76.5,123.7 75.5,124.5 74.5,125.3 73.5,126.0 72.5,126.8 71.5,127.5 70.6,128.2 69.9,128.8 69.3,129.4 68.9,130.0 68.9,130.0 69.6,129.9 70.4,129.6 71.3,129.2 72.3,128.7 73.3,128.1 74.4,127.5 75.6,126.8 76.7,126.1 77.8,125.4 78.9,124.7 79.9,123.9 80.9,123.1 81.7,122.4 82.6,121.6 83.4,120.7 84.2,119.9 84.9,119.0 85.7,118.1 86.4,117.2 87.1,116.2 87.7,115.3 88.3,114.3 88.9,113.4 89.4,112.4 89.8,111.5 90.3,110.5 90.7,109.6 91.0,108.6 91.4,107.6 91.7,106.6 91.9,105.6 92.1,104.6 92.3,103.6 92.4,102.6 92.4,101.5 92.4,100.4 92.3,99.3 92.1,98.2 91.9,97.1 91.5,96.0 91.2,95.0 90.8,94.0 90.4,93.0 90.0,92.0 89.7,91.0 89.3,90.1 89.0,89.2 88.7,88.3 88.4,87.3 88.1,86.3 87.8,85.4 87.5,84.4 87.1,83.5 86.8,82.6 86.6,81.7 86.3,80.9 86.2,80.1 86.0,79.3 86.0,78.6 85.9,77.9 86.0,77.1 86.1,76.3 86.1,75.5 86.3,74.8 86.4,74.0 86.7,73.3 86.9,72.6 87.2,71.8 87.6,71.1 88.0,70.4 88.5,69.7 89.1,69.0 89.8,68.2 90.6,67.5 91.5,66.7 92.5,65.9 93.6,65.1 94.7,64.3 95.9,63.5 97.1,62.7 98.3,62.0 99.4,61.3 100.6,60.6 101.7,60.0 102.8,59.5 103.9,58.9 105.1,58.4 106.4,57.9 107.6,57.4 108.9,56.9 110.1,56.5 111.2,56.1 112.2,55.7 113.1,55.3 113.9,55.0 114.4,54.4" />
<polygon points="120.0,60.0 119.4,59.9 118.6,59.9 117.8,60.1 116.9,60.2 115.9,60.4 114.8,60.7 113.7,61.0 112.6,61.3 111.5,61.6 110.4,62.0 109.3,62.3 108.3,62.7 107.4,63.2 106.4,63.6 105.4,64.0 104.4,64.5 103.4,65.0 102.4,65.5 101.4,66.1 100.4,66.7 99.5,67.3 98.6,67.9 97.8,68.6 97.0,69.4 96.3,70.1 95.7,70.9 95.1,71.7 94.6,72.5 94.1,73.4 93.7,74.3 93.3,75.2 93.0,76.1 92.7,77.0 92.5,77.9 92.3,78.9 92.2,79.9 92.1,80.9 92.2,81.9 92.3,82.9 92.5,83.9 92.7,84.8 92.9,85.8 93.2,86.7 93.5,87.6 93.8,88.5 94.1,89.4 94.4,90.3 94.6,91.1 94.9,92.1 95.2,93.1 95.6,94.0 95.9,95.0 96.3,95.9 96.6,96.8 97.0,97.7 97.3,98.6 97.5,99.4 97.7,100.2 97.9,101.0 97.9,101.8 98.0,102.6 98.0,103.4 98.0,104.3 97.9,105.1 97.8,106.0 97.7,106.8 97.5,107.7 97.3,108.5 97.1,109.4 96.8,110.3 96.5,111.2 96.2,112.1 95.8,113.0 95.3,113.9 94.8,114.9 94.3,115.9 93.7,116.9 93.1,117.9 92.5,118.9 91.9,119.9 91.2,120.8 90.5,121.8 89.8,122.7 89.1,123.6 88.3,124.4 87.4,125.3 86.5,126.2 85.5,127.1 84.5,128.0 83.4,128.9 82.4,129.8 81.5,130.6 80.6,131.3 79.9,132.0 79.2,132.7 78.9,133.3 78.9,133.3 79.6,133.2 80.4,132.8 81.3,132.3 82.3,131.7 83.4,131.0 84.5,130.3 85.6,129.5 86.8,128.7 87.9,127.9 89.0,127.0 90.0,126.2 90.9,125.3 91.8,124.4 92.6,123.5 93.4,122.6 94.2,121.6 95.0,120.6 95.7,119.6 96.5,118.6 97.1,117.6 97.8,116.5 98.4,115.5 98.9,114.5 99.4,113.5 99.9,112.5 100.3,111.5 100.6,110.5 101.0,109.5 101.2,108.6 101.5,107.6 101.7,106.6 101.8,105.6 102.0,104.6 102.0,103.6 102.1,102.6 102.1,101.5 102.0,100.5 101.8,99.4 101.6,98.3 101.3,97.3 101.0,96.3 100.6,95.3 100.3,94.4 99.9,93.5 99.6,92.5 99.3,91.7 99.0,90.8 98.7,90.0 98.5,89.0 98.2,88.1 97.9,87.2 97.6,86.3 97.3,85.4 97.0,84.6 96.8,83.8 96.6,83.0 96.4,82.2 96.3,81.5 96.3,80.8 96.3,80.1 96.3,79.4 96.4,78.7 96.6,78.0 96.8,77.2 97.0,76.5 97.3,75.8 97.6,75.1 97.9,74.4 98.3,73.7 98.7,73.0 99.1,72.4 99.6,71.8 100.2,71.2 100.8,70.6 101.5,70.0 102.3,69.4 103.1,68.8 104.0,68.2 104.9,67.6 105.8,67.1 106.7,66.6 107.6,66.0 108.6,65.5 109.4,65.0 110.3,64.6 111.3,64.1 112.3,63.7 113.3,63.2 114.3,62.8 115.4,62.4 116.4,62.0 117.3,61.6 118.2,61.2 118.9,60.8 119.6,60.5 120.0,60.0" />
<polygon points="124.4,65.0 123.9,64.8 123.3,64.9 122.6,65.0 121.9,65.1 121.1,65.3 120.2,65.5 119.3,65.7 118.4,66.0 117.5,66.3 116.7,66.6 115.8,66.9 115.0,67.2 114.2,67.5 113.5,67.9 112.7,68.2 111.9,68.6 111.1,69.0 110.3,69.4 109.5,69.9 108.7,70.3 107.9,70.9 107.2,71.4 106.5,72.1 105.8,72.8 105.3,73.5 104.7,74.2 104.2,75.0 103.7,75.9 103.3,76.7 102.9,77.6 102.5,78.5 102.2,79.5 102.0,80.4 101.8,81.3 101.6,82.3 101.5,83.2 101.5,84.2 101.5,85.2 101.7,86.2 101.9,87.1 102.1,88.0 102.3,88.9 102.6,89.8 102.9,90.7 103.2,91.5 103.5,92.3 103.8,93.2 104.1,94.0 104.4,94.9 104.7,95.8 105.1,96.8 105.5,97.6 105.9,98.5 106.3,99.4 106.6,100.2 106.9,101.0 107.2,101.8 107.5,102.6 107.6,103.3 107.7,104.1 107.8,104.8 107.8,105.7 107.8,106.5 107.7,107.3 107.6,108.2 107.5,109.0 107.4,109.9 107.2,110.8 106.9,111.6 106.7,112.5 106.4,113.4 106.1,114.4 105.8,115.3 105.4,116.3 105.0,117.2 104.5,118.2 104.0,119.3 103.5,120.3 103.0,121.3 102.4,122.3 101.9,123.2 101.3,124.1 100.7,125.0 100.1,125.9 99.5,126.7 98.8,127.5 98.1,128.3 97.3,129.1 96.5,129.8 95.7,130.6 94.9,131.3 94.2,132.0 93.5,132.7 92.9,133.3 92.5,133.8 92.2,134.4 92.2,134.4 92.9,134.3 93.5,134.0 94.2,133.6 95.0,133.1 95.9,132.6 96.8,132.0 97.7,131.3 98.7,130.6 99.6,129.9 100.5,129.1 101.3,128.3 102.1,127.5 102.8,126.6 103.5,125.7 104.2,124.8 104.9,123.8 105.6,122.8 106.2,121.8 106.8,120.8 107.4,119.7 108.0,118.7 108.5,117.7 109.0,116.6 109.4,115.6 109.8,114.7 110.2,113.7 110.5,112.7 110.8,111.7 111.1,110.7 111.3,109.7 111.5,108.7 111.7,107.7 111.8,106.7 111.9,105.7 111.9,104.7 111.8,103.7 111.7,102.7 111.5,101.6 111.2,100.6 110.9,99.6 110.6,98.6 110.2,97.7 109.8,96.8 109.4,95.9 109.1,95.1 108.7,94.3 108.4,93.5 108.2,92.7 107.9,91.8 107.6,90.9 107.3,90.1 107.0,89.2 106.7,88.4 106.4,87.6 106.2,86.9 106.0,86.1 105.8,85.4 105.7,84.7 105.6,84.1 105.6,83.4 105.7,82.8 105.7,82.0 105.9,81.3 106.1,80.5 106.3,79.8 106.5,79.0 106.8,78.3 107.1,77.6 107.5,76.9 107.8,76.2 108.2,75.6 108.6,75.0 109.0,74.5 109.5,74.0 110.0,73.5 110.6,73.0 111.2,72.5 111.9,72.1 112.6,71.6 113.3,71.2 114.0,70.7 114.7,70.3 115.4,69.9 116.1,69.5 116.8,69.1 117.6,68.7 118.3,68.3 119.2,67.9 120.0,67.5 120.8,67.1 121.6,66.8 122.3,66.4 123.0,66.1 123.6,65.8 124.1,65.5 124.4,65.0" />
<polygon points="127.8,72.2 127.4,72.0 127.1,71.9 126.6,71.9 126.2,71.9 125.6,71.9 125.1,72.0 124.5,72.0 123.9,72.1 123.4,72.2 122.8,72.4 122.2,72.6 121.7,72.8 121.2,73.0 120.7,73.2 120.2,73.4 119.7,73.6 119.1,73.9 118.6,74.2 118.1,74.6 117.6,74.9 117.1,75.3 116.6,75.8 116.2,76.2 115.8,76.8 115.4,77.3 115.0,77.8 114.7,78.4 114.3,79.0 114.0,79.7 113.7,80.3 113.4,81.0 113.2,81.8 113.0,82.5 112.8,83.3 112.7,84.1 112.6,84.9 112.6,85.8 112.6,86.7 112.7,87.5 112.9,88.4 113.1,89.2 113.2,90.1 113.5,90.9 113.7,91.8 113.9,92.6 114.2,93.4 114.4,94.2 114.6,95.0 114.9,95.9 115.1,96.7 115.5,97.6 115.8,98.3 116.1,99.1 116.4,99.9 116.7,100.6 117.0,101.4 117.2,102.1 117.4,102.8 117.6,103.5 117.7,104.2 117.8,104.9 117.9,105.7 117.9,106.5 118.0,107.3 118.0,108.1 117.9,109.0 117.9,109.8 117.8,110.7 117.7,111.6 117.6,112.4 117.5,113.3 117.4,114.1 117.2,114.9 117.1,115.8 116.9,116.6 116.6,117.5 116.4,118.4 116.2,119.2 115.9,120.0 115.6,120.9 115.4,121.7 115.1,122.4 114.8,123.1 114.5,123.8 114.1,124.4 113.8,125.1 113.3,125.7 112.9,126.3 112.4,126.9 111.9,127.5 111.5,128.1 111.0,128.6 110.6,129.1 110.3,129.6 110.0,130.0 110.0,130.6 110.0,130.6 110.5,130.5 111.0,130.3 111.5,130.0 112.0,129.6 112.6,129.2 113.2,128.7 113.8,128.2 114.4,127.7 115.0,127.1 115.6,126.5 116.2,125.8 116.7,125.1 117.1,124.4 117.5,123.6 118.0,122.8 118.4,122.0 118.7,121.1 119.1,120.2 119.5,119.3 119.8,118.4 120.1,117.5 120.4,116.6 120.6,115.7 120.9,114.8 121.1,113.9 121.2,113.0 121.4,112.1 121.6,111.2 121.7,110.2 121.8,109.3 121.9,108.3 121.9,107.4 122.0,106.4 121.9,105.5 121.9,104.6 121.8,103.6 121.7,102.7 121.5,101.7 121.2,100.8 121.0,100.0 120.7,99.1 120.4,98.3 120.1,97.5 119.7,96.8 119.5,96.0 119.2,95.3 118.9,94.6 118.7,93.9 118.5,93.1 118.3,92.3 118.0,91.4 117.8,90.6 117.6,89.8 117.4,89.1 117.2,88.3 117.0,87.6 116.9,86.9 116.8,86.2 116.7,85.6 116.7,85.1 116.7,84.5 116.8,83.9 116.9,83.4 117.0,82.8 117.2,82.3 117.3,81.7 117.5,81.2 117.7,80.7 118.0,80.2 118.2,79.7 118.4,79.2 118.7,78.8 118.9,78.4 119.2,78.1 119.5,77.7 119.8,77.4 120.1,77.1 120.4,76.8 120.8,76.4 121.2,76.1 121.6,75.9 122.0,75.6 122.4,75.3 122.8,75.0 123.2,74.8 123.6,74.5 124.0,74.3 124.5,74.1 125.0,73.9 125.5,73.7 126.0,73.5 126.5,73.3 126.9,73.1 127.3,72.8 127.6,72.6 127.8,72.2" />
</g>
<text x="143.5" y="82" font-size="40" fill="#1d3f6d" stroke="#fff" stroke-width="0.7" textLength="200" lengthAdjust="spacingAndGlyphs">ТеплоСофт</text>
<text x="147" y="107.6" font-size="22" fill="#c9604a" stroke="#fff" stroke-width="0.3" textLength="151" lengthAdjust="spacingAndGlyphs">мягкое тепло</text>
<text x="147" y="127.4" font-size="22" fill="#c9604a" stroke="#fff" stroke-width="0.3" textLength="193" lengthAdjust="spacingAndGlyphs">для вашего дома</text>
</svg></body></html>
